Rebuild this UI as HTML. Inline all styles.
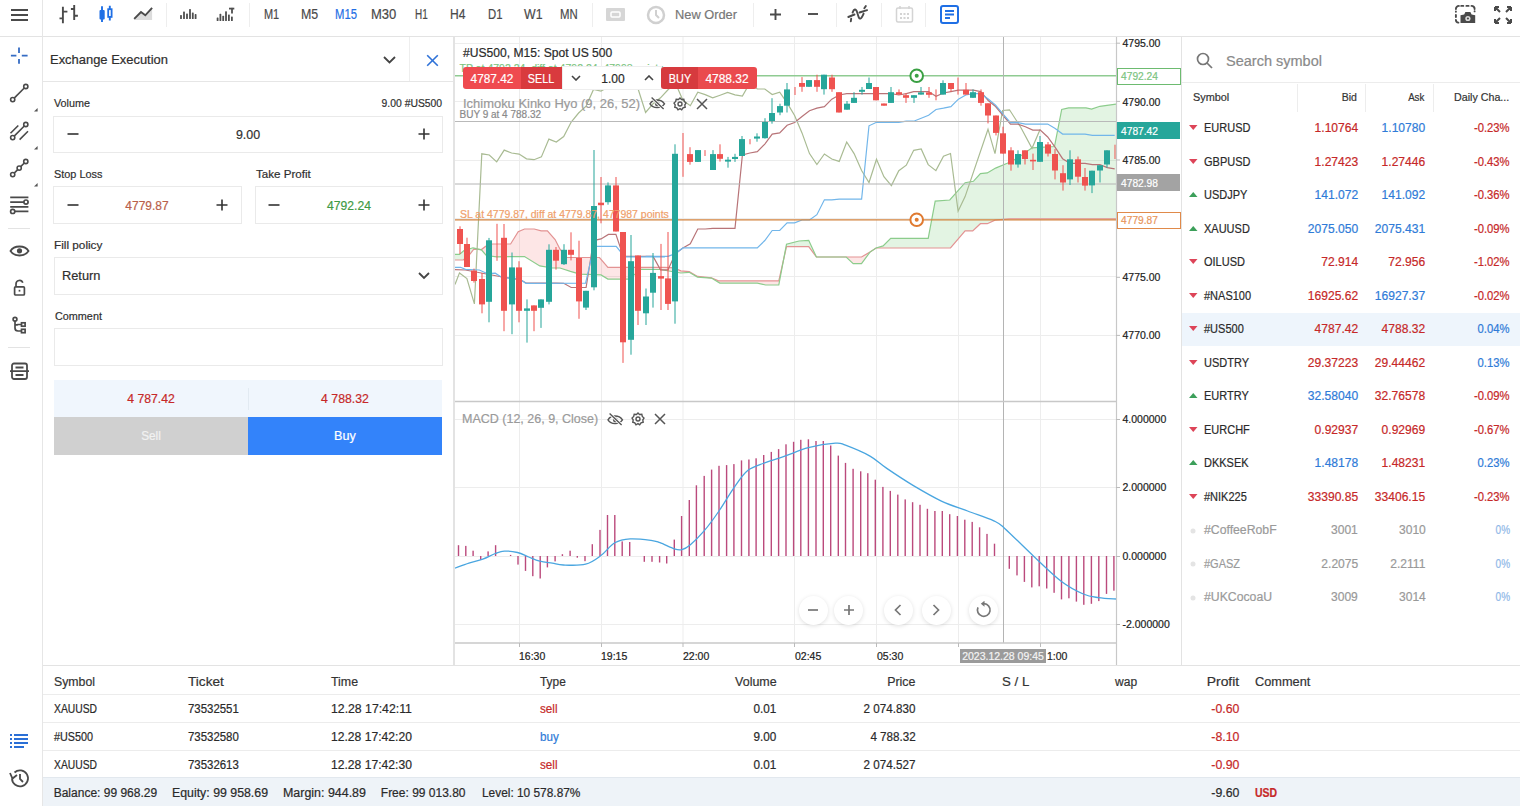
<!DOCTYPE html><html><head><meta charset="utf-8"><style>
html,body{margin:0;padding:0;width:1520px;height:806px;overflow:hidden;background:#fff;font-family:"Liberation Sans", sans-serif;}
.t{position:absolute;height:20px;line-height:20px;white-space:nowrap;-webkit-text-stroke:0.2px currentColor;}
svg{position:absolute;}
</style></head><body>
<div style="position:absolute;left:0px;top:36px;width:1520px;height:1px;background:#e3e3e3"></div>
<div style="position:absolute;left:42px;top:0px;width:1px;height:806px;background:#e6e6e6"></div>
<svg style="left:11px;top:9px" width="18" height="12"><rect x="0" y="0" width="17" height="2" fill="#4a4a4a"/><rect x="0" y="5" width="17" height="2" fill="#4a4a4a"/><rect x="0" y="10" width="17" height="2" fill="#4a4a4a"/></svg>
<svg style="left:58px;top:4px" width="22" height="20" stroke="#4a4a4a" stroke-width="1.9" fill="none"><path d="M4.9 2.8V19.2M1.5 14.4H4.9M4.9 7.6H9.4M16.2 1V16M12.9 5H16.2M16.2 11.8H19.9"/></svg>
<svg style="left:98px;top:5px" width="18" height="18"><path d="M4 1.3V17.1M11.8 0.8V15.5" stroke="#1f6fe5" stroke-width="1.9"/><rect x="1.5" y="5" width="5.2" height="9.5" rx="1" fill="#1f6fe5"/><rect x="10.2" y="4.2" width="3.4" height="7.7" fill="#fff" stroke="#1f6fe5" stroke-width="1.8"/></svg>
<svg style="left:133px;top:6px" width="21" height="16"><path d="M1.2 12.9L8 6.1L12.3 9.3L19.1 1.9V14H1.2Z" fill="#dcdcdc"/><path d="M1.2 12.9L8 6.1L12.3 9.3L19.1 1.9" stroke="#4a4a4a" stroke-width="1.9" fill="none"/></svg>
<div style="position:absolute;left:166px;top:3px;width:1px;height:24px;background:#eeeeee"></div>
<svg style="left:176px;top:2px" width="24" height="22" fill="#4f4f4f"><rect x="4.1" y="13.1" width="1.8" height="4.0" rx="0.6"/><rect x="7.1" y="9.5" width="1.8" height="7.6" rx="0.6"/><rect x="10.1" y="11.5" width="1.8" height="5.6" rx="0.6"/><rect x="13.1" y="6.9" width="1.8" height="10.2" rx="0.6"/><rect x="15.9" y="10.5" width="1.8" height="6.6" rx="0.6"/><rect x="18.7" y="12.1" width="1.8" height="5.0" rx="0.6"/></svg>
<svg style="left:212px;top:2px" width="26" height="22" fill="#4f4f4f"><rect x="4.7" y="15.4" width="1.8" height="3.6" rx="0.6"/><rect x="7.5" y="11.8" width="1.8" height="7.2" rx="0.6"/><rect x="10.3" y="13.8" width="1.8" height="5.2" rx="0.6"/><rect x="13.1" y="9.2" width="1.8" height="9.8" rx="0.6"/><rect x="16.0" y="12.5" width="1.8" height="6.5" rx="0.6"/><rect x="19.0" y="14.4" width="1.8" height="4.6" rx="0.6"/><rect x="17" y="5.7" width="5.3" height="1.8"/><rect x="19.1" y="5.9" width="1.8" height="5.6"/></svg>
<div style="position:absolute;left:248.5px;top:3px;width:1px;height:24px;background:#eeeeee"></div>
<div class="t" style="left:264.3px;top:4.199999999999999px;font-size:14px;color:#4a4a4a;font-weight:normal;transform:scaleX(0.782);transform-origin:left center;">M1</div>
<div class="t" style="left:300.7px;top:4.199999999999999px;font-size:14px;color:#4a4a4a;font-weight:normal;transform:scaleX(0.885);transform-origin:left center;">M5</div>
<div class="t" style="left:335.2px;top:4.199999999999999px;font-size:14px;color:#1f6fe5;font-weight:normal;transform:scaleX(0.805);transform-origin:left center;">M15</div>
<div class="t" style="left:370.9px;top:4.199999999999999px;font-size:14px;color:#4a4a4a;font-weight:normal;transform:scaleX(0.930);transform-origin:left center;">M30</div>
<div class="t" style="left:414.6px;top:4.199999999999999px;font-size:14px;color:#4a4a4a;font-weight:normal;transform:scaleX(0.710);transform-origin:left center;">H1</div>
<div class="t" style="left:449.9px;top:4.199999999999999px;font-size:14px;color:#4a4a4a;font-weight:normal;transform:scaleX(0.861);transform-origin:left center;">H4</div>
<div class="t" style="left:487.6px;top:4.199999999999999px;font-size:14px;color:#4a4a4a;font-weight:normal;transform:scaleX(0.810);transform-origin:left center;">D1</div>
<div class="t" style="left:523.5px;top:4.199999999999999px;font-size:14px;color:#4a4a4a;font-weight:normal;transform:scaleX(0.881);transform-origin:left center;">W1</div>
<div class="t" style="left:560.4px;top:4.199999999999999px;font-size:14px;color:#4a4a4a;font-weight:normal;transform:scaleX(0.813);transform-origin:left center;">MN</div>
<div style="position:absolute;left:592px;top:3px;width:1px;height:24px;background:#eeeeee"></div>
<svg style="left:606px;top:8px" width="19" height="14"><rect x="0" y="0" width="19" height="13" rx="1" fill="#d6d6d6"/><rect x="5" y="4" width="9" height="5" rx="1" fill="none" stroke="#fff" stroke-width="1.5"/></svg>
<svg style="left:646px;top:5px" width="20" height="20"><circle cx="10" cy="10" r="8" fill="none" stroke="#d0d0d0" stroke-width="2.5"/><path d="M10 5V10L13 13" stroke="#d0d0d0" stroke-width="2" fill="none"/></svg>
<div class="t" style="left:675px;top:4.6px;font-size:13px;color:#777;font-weight:normal;transform:scaleX(0.986);transform-origin:left center;">New Order</div>
<div style="position:absolute;left:753px;top:3px;width:1px;height:24px;background:#eeeeee"></div>
<svg style="left:769px;top:8px" width="13" height="13"><path d="M6.5 1V12M1 6.5H12" stroke="#4a4a4a" stroke-width="1.9"/></svg>
<svg style="left:807px;top:8px" width="12" height="12"><path d="M1 6H11" stroke="#4a4a4a" stroke-width="1.9"/></svg>
<div style="position:absolute;left:836px;top:3px;width:1px;height:24px;background:#eeeeee"></div>
<svg style="left:846px;top:4px" width="24" height="22" fill="none" stroke="#4a4a4a" stroke-width="1.9" stroke-linecap="round"><path d="M2.3 13L8.5 10.5M13.5 8.5L21.1 6.1M4.8 17.3L5.2 14.6M18.3 4.3L19.8 2.1"/><path d="M6.6 8.6C7.8 5 9.8 4 11.2 8.5C12.4 12.5 13 15 14.3 14.6C15.7 14.2 16.8 11.5 17.6 9.6"/></svg>
<div style="position:absolute;left:881px;top:3px;width:1px;height:24px;background:#eeeeee"></div>
<svg style="left:895px;top:5px" width="19" height="19"><rect x="1.5" y="3" width="16" height="14" rx="1.5" fill="none" stroke="#d4d4d4" stroke-width="1.5"/><path d="M5 1V4M14 1V4" stroke="#d4d4d4" stroke-width="1.5"/><g fill="#d4d4d4"><rect x="5" y="8" width="2" height="2"/><rect x="8.5" y="8" width="2" height="2"/><rect x="12" y="8" width="2" height="2"/><rect x="5" y="12" width="2" height="2"/><rect x="8.5" y="12" width="2" height="2"/><rect x="12" y="12" width="2" height="2"/></g></svg>
<div style="position:absolute;left:925px;top:3px;width:1px;height:24px;background:#eeeeee"></div>
<svg style="left:940px;top:5px" width="19" height="19"><rect x="1" y="1" width="17" height="17" rx="2" fill="none" stroke="#1f6fe5" stroke-width="2"/><path d="M5 6H14M5 9.5H14M5 13H10" stroke="#1f6fe5" stroke-width="2"/></svg>
<svg style="left:1454px;top:4px" width="23" height="21"><g fill="none" stroke="#4a4a4a" stroke-width="1.9" stroke-linecap="round"><path d="M1.9 5A3 3 0 0 1 4.9 1.9M7.2 1.9H9.3M12.4 1.9H14.6M17.5 1.9A3 3 0 0 1 20.6 5M20.6 7.2V7.4M1.9 7.4V7.8M1.9 11V13M1.9 16A2.8 2.8 0 0 0 4.4 18.6"/></g><path d="M6.5 19V11.2L10.2 10.4L11.4 8H16.4L17.6 10.4L21.2 11.2V19Z" fill="#4a4a4a"/><circle cx="13.9" cy="14.5" r="2.6" fill="#ddd"/><circle cx="13.9" cy="14.5" r="1.1" fill="#4a4a4a"/></svg>
<svg style="left:1493px;top:5px" width="20" height="20" fill="none" stroke="#4a4a4a" stroke-width="2"><path d="M2 2L7 7M2 2V6M2 2H6M18 2L13 7M18 2V6M18 2H14M2 18L7 13M2 18V14M2 18H6M18 18L13 13M18 18V14M18 18H14"/></svg>
<svg style="left:10px;top:47px" width="18" height="18" stroke="#356cc4" stroke-width="1.8"><path d="M9 0.4V5.9M9 11.9V16.8M0.9 8.7H6.4M11.8 8.7H17.6"/></svg>
<svg style="left:9px;top:83px" width="22" height="22" fill="none" stroke="#4a4a4a" stroke-width="1.6"><circle cx="3.7" cy="16.6" r="2.1"/><circle cx="16.8" cy="3.5" r="2.1"/><path d="M5.2 15.1L15.3 5"/></svg>
<svg style="left:9px;top:121px" width="22" height="22" fill="none" stroke="#4a4a4a" stroke-width="1.6"><circle cx="3.7" cy="16.6" r="2.1"/><circle cx="16.8" cy="3.5" r="2.1"/><path d="M1.5 12.3L9.3 4.5M5.2 15.1L15.3 5M10.6 18.6L19 10.3"/></svg>
<svg style="left:9px;top:158px" width="22" height="22" fill="none" stroke="#4a4a4a" stroke-width="1.6"><circle cx="3.7" cy="16.6" r="2.1"/><circle cx="10.2" cy="10.1" r="2.1"/><circle cx="16.8" cy="3.5" r="2.1"/><path d="M5.2 15.1L8.7 11.6M11.7 8.6L15.3 5"/></svg>
<svg style="left:9px;top:194px" width="22" height="22" fill="none" stroke="#4a4a4a" stroke-width="1.7"><path d="M1.2 3.4H19.4M1.2 8.1H15M1.2 12.9H19.4M5.8 17.4H19.4"/><circle cx="17" cy="8.1" r="2.1"/><circle cx="3.7" cy="17.4" r="2.1"/></svg>
<svg style="left:34.3px;top:108.3px" width="3.6" height="3.6"><path d="M3.6 0V3.6H0Z" fill="#555"/></svg>
<svg style="left:34.3px;top:146.3px" width="3.6" height="3.6"><path d="M3.6 0V3.6H0Z" fill="#555"/></svg>
<svg style="left:34.3px;top:183.3px" width="3.6" height="3.6"><path d="M3.6 0V3.6H0Z" fill="#555"/></svg>
<div style="position:absolute;left:8px;top:228px;width:22px;height:1px;background:#e3e3e3"></div>
<svg style="left:9px;top:243px" width="21" height="16" fill="none" stroke="#4a4a4a" stroke-width="1.8"><path d="M1.5 8C5 2 16 2 19.5 8C16 14 5 14 1.5 8Z"/><circle cx="10.5" cy="7.8" r="2.6" fill="#4a4a4a" stroke="none"/></svg>
<svg style="left:12px;top:279px" width="15" height="18" fill="none" stroke="#4a4a4a" stroke-width="1.7"><path d="M4 7.5V5A3.5 3.5 0 0 1 10.8 3.8"/><rect x="2.6" y="7.8" width="9.8" height="8.2" rx="1"/><path d="M7.5 10.8V12.6"/></svg>
<svg style="left:11px;top:316px" width="17" height="19" fill="none" stroke="#4a4a4a" stroke-width="1.7"><circle cx="4" cy="3.2" r="1.9"/><path d="M4 5V12A3 3 0 0 0 7 15H10.5M4 8.5A3 3 0 0 0 7 8.5H10.5"/><rect x="10.5" y="6.8" width="3.6" height="3.4"/><rect x="10.5" y="13.3" width="3.6" height="3.4"/></svg>
<div style="position:absolute;left:8px;top:347px;width:22px;height:1px;background:#e3e3e3"></div>
<svg style="left:9px;top:362px" width="21" height="19" fill="none" stroke="#4a4a4a" stroke-width="1.8"><rect x="3" y="1.5" width="15" height="15.5" rx="2"/><path d="M1 9.2H20M6.5 5.5H14.5M6.5 13H14.5"/></svg>
<svg style="left:10px;top:733px" width="19" height="16" fill="#2a6fd6"><rect x="0" y="1" width="2" height="2"/><rect x="0" y="5" width="2" height="2"/><rect x="0" y="9" width="2" height="2"/><rect x="0" y="13" width="2" height="2"/><rect x="4" y="1" width="14" height="2"/><rect x="4" y="5" width="14" height="2"/><rect x="4" y="9" width="14" height="2"/><rect x="4" y="13" width="10" height="2"/></svg>
<svg style="left:8px;top:768px" width="22" height="21" fill="none" stroke="#4a4a4a" stroke-width="1.8"><path d="M4 10.5A8 8 0 1 0 6.5 4.5"/><path d="M2 5L4.5 10.5L9 7" /><path d="M12 6V11L15 14"/></svg>
<div style="position:absolute;left:453px;top:36px;width:1px;height:630px;background:#e3e3e3"></div>
<div style="position:absolute;left:43px;top:81px;width:410px;height:1px;background:#e6e6e6"></div>
<div style="position:absolute;left:409px;top:37px;width:1px;height:44px;background:#eeeeee"></div>
<div class="t" style="left:50px;top:50.0px;font-size:13px;color:#2f2f2f;font-weight:normal;transform:scaleX(0.995);transform-origin:left center;">Exchange Execution</div>
<svg style="left:383px;top:56px" width="13" height="8" fill="none" stroke="#444" stroke-width="1.8"><path d="M1 1L6.5 6.5L12 1"/></svg>
<svg style="left:425.5px;top:54px" width="13" height="13" fill="none" stroke="#2f72d8" stroke-width="1.6"><path d="M1.2 1.2L11.8 11.8M11.8 1.2L1.2 11.8"/></svg>
<div class="t" style="left:54px;top:93.0px;font-size:11.5px;color:#2f2f2f;font-weight:normal;transform:scaleX(0.939);transform-origin:left center;">Volume</div>
<div class="t" style="right:1077.5px;top:93.0px;font-size:11.5px;color:#2f2f2f;font-weight:normal;transform:scaleX(0.902);transform-origin:right center;">9.00 #US500</div>
<div style="position:absolute;left:53px;top:116px;width:388px;height:35px;border:1px solid #eaeaea;background:#fff"></div>
<svg style="left:67px;top:128px" width="12" height="12"><path d="M0.5 6H11.5" stroke="#333" stroke-width="1.6"/></svg>
<svg style="left:418px;top:128px" width="12" height="12"><path d="M0.5 6H11.5M6 0.5V11.5" stroke="#333" stroke-width="1.6"/></svg>
<div class="t" style="left:48.19999999999999px;width:400px;text-align:center;top:124.5px;font-size:13px;color:#2f2f2f;font-weight:normal;transform:scaleX(0.956);transform-origin:center center;">9.00</div>
<div class="t" style="left:54px;top:164.0px;font-size:11.5px;color:#2f2f2f;font-weight:normal;transform:scaleX(0.947);transform-origin:left center;">Stop Loss</div>
<div class="t" style="left:256.4px;top:164.0px;font-size:11.5px;color:#2f2f2f;font-weight:normal;transform:scaleX(1.009);transform-origin:left center;">Take Profit</div>
<div style="position:absolute;left:53px;top:186px;width:187px;height:36px;border:1px solid #eaeaea;background:#fff"></div>
<div style="position:absolute;left:255px;top:186px;width:186px;height:36px;border:1px solid #eaeaea;background:#fff"></div>
<svg style="left:67px;top:199px" width="12" height="12"><path d="M0.5 6H11.5" stroke="#333" stroke-width="1.6"/></svg>
<svg style="left:216px;top:199px" width="12" height="12"><path d="M0.5 6H11.5M6 0.5V11.5" stroke="#333" stroke-width="1.6"/></svg>
<div class="t" style="left:-52.80000000000001px;width:400px;text-align:center;top:195.5px;font-size:13px;color:#b9604a;font-weight:normal;transform:scaleX(0.921);transform-origin:center center;">4779.87</div>
<svg style="left:268px;top:199px" width="12" height="12"><path d="M0.5 6H11.5" stroke="#333" stroke-width="1.6"/></svg>
<svg style="left:418px;top:199px" width="12" height="12"><path d="M0.5 6H11.5M6 0.5V11.5" stroke="#333" stroke-width="1.6"/></svg>
<div class="t" style="left:148.8px;width:400px;text-align:center;top:195.5px;font-size:13px;color:#3f9a45;font-weight:normal;transform:scaleX(0.934);transform-origin:center center;">4792.24</div>
<div class="t" style="left:54px;top:235.0px;font-size:11.5px;color:#2f2f2f;font-weight:normal;transform:scaleX(1.023);transform-origin:left center;">Fill policy</div>
<div style="position:absolute;left:54px;top:257px;width:387px;height:36px;border:1px solid #eaeaea;background:#fff"></div>
<div class="t" style="left:62px;top:266.0px;font-size:13px;color:#2f2f2f;font-weight:normal;transform:scaleX(0.984);transform-origin:left center;">Return</div>
<svg style="left:418px;top:272px" width="12" height="8" fill="none" stroke="#444" stroke-width="1.8"><path d="M1 1L6 6L11 1"/></svg>
<div class="t" style="left:54.5px;top:306.0px;font-size:11.5px;color:#2f2f2f;font-weight:normal;transform:scaleX(0.941);transform-origin:left center;">Comment</div>
<div style="position:absolute;left:54px;top:328px;width:387px;height:36px;border:1px solid #eaeaea;background:#fff"></div>
<div style="position:absolute;left:54px;top:380px;width:388px;height:37px;background:#f0f6fd"></div>
<div style="position:absolute;left:248px;top:388px;width:1px;height:22px;background:#e2eaf2"></div>
<div class="t" style="left:-49.19999999999999px;width:400px;text-align:center;top:388.5px;font-size:13px;color:#c62828;font-weight:normal;transform:scaleX(0.938);transform-origin:center center;">4 787.42</div>
<div class="t" style="left:145.3px;width:400px;text-align:center;top:388.5px;font-size:13px;color:#c62828;font-weight:normal;transform:scaleX(0.944);transform-origin:center center;">4 788.32</div>
<div style="position:absolute;left:54px;top:417px;width:194px;height:38px;background:#d0d0d0"></div>
<div style="position:absolute;left:248px;top:417px;width:194px;height:38px;background:#3383fa"></div>
<div class="t" style="left:-48.80000000000001px;width:400px;text-align:center;top:426.0px;font-size:13px;color:#f2f2f2;font-weight:normal;transform:scaleX(0.908);transform-origin:center center;">Sell</div>
<div class="t" style="left:144.7px;width:400px;text-align:center;top:426.0px;font-size:13px;color:#ffffff;font-weight:normal;transform:scaleX(0.973);transform-origin:center center;">Buy</div>
<div style="position:absolute;left:1181px;top:36px;width:1px;height:630px;background:#e3e3e3"></div>
<svg style="left:1196px;top:52px" width="17" height="17" fill="none" stroke="#777" stroke-width="1.7"><circle cx="7" cy="7" r="5.5"/><path d="M11 11L16 16"/></svg>
<div class="t" style="left:1226.4px;top:50.5px;font-size:14px;color:#8a8a8a;font-weight:normal;transform:scaleX(1.036);transform-origin:left center;">Search symbol</div>
<div style="position:absolute;left:1182px;top:82px;width:338px;height:1px;background:#ececec"></div>
<div class="t" style="left:1193px;top:86.8px;font-size:11px;color:#333;font-weight:normal;transform:scaleX(0.989);transform-origin:left center;">Symbol</div>
<div class="t" style="right:163.20000000000005px;top:86.8px;font-size:11px;color:#333;font-weight:normal;transform:scaleX(0.956);transform-origin:right center;">Bid</div>
<div class="t" style="right:95.20000000000005px;top:86.8px;font-size:11px;color:#333;font-weight:normal;transform:scaleX(0.883);transform-origin:right center;">Ask</div>
<div class="t" style="left:1453.8px;top:86.8px;font-size:11px;color:#333;font-weight:normal;transform:scaleX(0.972);transform-origin:left center;">Daily Cha...</div>
<div style="position:absolute;left:1297px;top:84px;width:1px;height:28px;background:#ededed"></div>
<div style="position:absolute;left:1365px;top:84px;width:1px;height:28px;background:#ededed"></div>
<div style="position:absolute;left:1433px;top:84px;width:1px;height:28px;background:#ededed"></div>
<svg style="left:1189px;top:125.0px" width="8.5" height="5"><path d="M0 0H8.5L4.25 5Z" fill="#dd4458"/></svg>
<div class="t" style="left:1204.2px;top:118.0px;font-size:12.5px;color:#2a2a2a;font-weight:normal;transform:scaleX(0.880);transform-origin:left center;">EURUSD</div>
<div class="t" style="right:162.20000000000005px;top:118.0px;font-size:12.5px;color:#c62828;font-weight:normal;transform:scaleX(0.965);transform-origin:right center;">1.10764</div>
<div class="t" style="right:94.5px;top:118.0px;font-size:12.5px;color:#2f7bd8;font-weight:normal;transform:scaleX(0.965);transform-origin:right center;">1.10780</div>
<div class="t" style="right:10.200000000000045px;top:118.0px;font-size:12.5px;color:#c62828;font-weight:normal;transform:scaleX(0.900);transform-origin:right center;">-0.23%</div>
<svg style="left:1189px;top:158.5px" width="8.5" height="5"><path d="M0 0H8.5L4.25 5Z" fill="#dd4458"/></svg>
<div class="t" style="left:1204.2px;top:151.5px;font-size:12.5px;color:#2a2a2a;font-weight:normal;transform:scaleX(0.880);transform-origin:left center;">GBPUSD</div>
<div class="t" style="right:162.20000000000005px;top:151.5px;font-size:12.5px;color:#c62828;font-weight:normal;transform:scaleX(0.965);transform-origin:right center;">1.27423</div>
<div class="t" style="right:94.5px;top:151.5px;font-size:12.5px;color:#c62828;font-weight:normal;transform:scaleX(0.965);transform-origin:right center;">1.27446</div>
<div class="t" style="right:10.200000000000045px;top:151.5px;font-size:12.5px;color:#c62828;font-weight:normal;transform:scaleX(0.900);transform-origin:right center;">-0.43%</div>
<svg style="left:1189px;top:192.0px" width="8.5" height="5"><path d="M0 5H8.5L4.25 0Z" fill="#3c9f5a"/></svg>
<div class="t" style="left:1204.2px;top:185.0px;font-size:12.5px;color:#2a2a2a;font-weight:normal;transform:scaleX(0.880);transform-origin:left center;">USDJPY</div>
<div class="t" style="right:162.20000000000005px;top:185.0px;font-size:12.5px;color:#2f7bd8;font-weight:normal;transform:scaleX(0.965);transform-origin:right center;">141.072</div>
<div class="t" style="right:94.5px;top:185.0px;font-size:12.5px;color:#2f7bd8;font-weight:normal;transform:scaleX(0.965);transform-origin:right center;">141.092</div>
<div class="t" style="right:10.200000000000045px;top:185.0px;font-size:12.5px;color:#c62828;font-weight:normal;transform:scaleX(0.900);transform-origin:right center;">-0.36%</div>
<svg style="left:1189px;top:225.5px" width="8.5" height="5"><path d="M0 5H8.5L4.25 0Z" fill="#3c9f5a"/></svg>
<div class="t" style="left:1204.2px;top:218.5px;font-size:12.5px;color:#2a2a2a;font-weight:normal;transform:scaleX(0.880);transform-origin:left center;">XAUUSD</div>
<div class="t" style="right:162.20000000000005px;top:218.5px;font-size:12.5px;color:#2f7bd8;font-weight:normal;transform:scaleX(0.965);transform-origin:right center;">2075.050</div>
<div class="t" style="right:94.5px;top:218.5px;font-size:12.5px;color:#2f7bd8;font-weight:normal;transform:scaleX(0.965);transform-origin:right center;">2075.431</div>
<div class="t" style="right:10.200000000000045px;top:218.5px;font-size:12.5px;color:#c62828;font-weight:normal;transform:scaleX(0.900);transform-origin:right center;">-0.09%</div>
<svg style="left:1189px;top:259.0px" width="8.5" height="5"><path d="M0 0H8.5L4.25 5Z" fill="#dd4458"/></svg>
<div class="t" style="left:1204.2px;top:252.0px;font-size:12.5px;color:#2a2a2a;font-weight:normal;transform:scaleX(0.880);transform-origin:left center;">OILUSD</div>
<div class="t" style="right:162.20000000000005px;top:252.0px;font-size:12.5px;color:#c62828;font-weight:normal;transform:scaleX(0.965);transform-origin:right center;">72.914</div>
<div class="t" style="right:94.5px;top:252.0px;font-size:12.5px;color:#c62828;font-weight:normal;transform:scaleX(0.965);transform-origin:right center;">72.956</div>
<div class="t" style="right:10.200000000000045px;top:252.0px;font-size:12.5px;color:#c62828;font-weight:normal;transform:scaleX(0.900);transform-origin:right center;">-1.02%</div>
<svg style="left:1189px;top:292.5px" width="8.5" height="5"><path d="M0 0H8.5L4.25 5Z" fill="#dd4458"/></svg>
<div class="t" style="left:1204.2px;top:285.5px;font-size:12.5px;color:#2a2a2a;font-weight:normal;transform:scaleX(0.880);transform-origin:left center;">#NAS100</div>
<div class="t" style="right:162.20000000000005px;top:285.5px;font-size:12.5px;color:#c62828;font-weight:normal;transform:scaleX(0.965);transform-origin:right center;">16925.62</div>
<div class="t" style="right:94.5px;top:285.5px;font-size:12.5px;color:#2f7bd8;font-weight:normal;transform:scaleX(0.965);transform-origin:right center;">16927.37</div>
<div class="t" style="right:10.200000000000045px;top:285.5px;font-size:12.5px;color:#c62828;font-weight:normal;transform:scaleX(0.900);transform-origin:right center;">-0.02%</div>
<div style="position:absolute;left:1182px;top:312.5px;width:338px;height:33px;background:#eef5fc"></div>
<svg style="left:1189px;top:326.0px" width="8.5" height="5"><path d="M0 0H8.5L4.25 5Z" fill="#dd4458"/></svg>
<div class="t" style="left:1204.2px;top:319.0px;font-size:12.5px;color:#2a2a2a;font-weight:normal;transform:scaleX(0.880);transform-origin:left center;">#US500</div>
<div class="t" style="right:162.20000000000005px;top:319.0px;font-size:12.5px;color:#c62828;font-weight:normal;transform:scaleX(0.965);transform-origin:right center;">4787.42</div>
<div class="t" style="right:94.5px;top:319.0px;font-size:12.5px;color:#c62828;font-weight:normal;transform:scaleX(0.965);transform-origin:right center;">4788.32</div>
<div class="t" style="right:10.200000000000045px;top:319.0px;font-size:12.5px;color:#2f7bd8;font-weight:normal;transform:scaleX(0.900);transform-origin:right center;">0.04%</div>
<svg style="left:1189px;top:359.5px" width="8.5" height="5"><path d="M0 0H8.5L4.25 5Z" fill="#dd4458"/></svg>
<div class="t" style="left:1204.2px;top:352.5px;font-size:12.5px;color:#2a2a2a;font-weight:normal;transform:scaleX(0.880);transform-origin:left center;">USDTRY</div>
<div class="t" style="right:162.20000000000005px;top:352.5px;font-size:12.5px;color:#c62828;font-weight:normal;transform:scaleX(0.965);transform-origin:right center;">29.37223</div>
<div class="t" style="right:94.5px;top:352.5px;font-size:12.5px;color:#c62828;font-weight:normal;transform:scaleX(0.965);transform-origin:right center;">29.44462</div>
<div class="t" style="right:10.200000000000045px;top:352.5px;font-size:12.5px;color:#2f7bd8;font-weight:normal;transform:scaleX(0.900);transform-origin:right center;">0.13%</div>
<svg style="left:1189px;top:393.0px" width="8.5" height="5"><path d="M0 5H8.5L4.25 0Z" fill="#3c9f5a"/></svg>
<div class="t" style="left:1204.2px;top:386.0px;font-size:12.5px;color:#2a2a2a;font-weight:normal;transform:scaleX(0.880);transform-origin:left center;">EURTRY</div>
<div class="t" style="right:162.20000000000005px;top:386.0px;font-size:12.5px;color:#2f7bd8;font-weight:normal;transform:scaleX(0.965);transform-origin:right center;">32.58040</div>
<div class="t" style="right:94.5px;top:386.0px;font-size:12.5px;color:#c62828;font-weight:normal;transform:scaleX(0.965);transform-origin:right center;">32.76578</div>
<div class="t" style="right:10.200000000000045px;top:386.0px;font-size:12.5px;color:#c62828;font-weight:normal;transform:scaleX(0.900);transform-origin:right center;">-0.09%</div>
<svg style="left:1189px;top:426.5px" width="8.5" height="5"><path d="M0 0H8.5L4.25 5Z" fill="#dd4458"/></svg>
<div class="t" style="left:1204.2px;top:419.5px;font-size:12.5px;color:#2a2a2a;font-weight:normal;transform:scaleX(0.880);transform-origin:left center;">EURCHF</div>
<div class="t" style="right:162.20000000000005px;top:419.5px;font-size:12.5px;color:#c62828;font-weight:normal;transform:scaleX(0.965);transform-origin:right center;">0.92937</div>
<div class="t" style="right:94.5px;top:419.5px;font-size:12.5px;color:#c62828;font-weight:normal;transform:scaleX(0.965);transform-origin:right center;">0.92969</div>
<div class="t" style="right:10.200000000000045px;top:419.5px;font-size:12.5px;color:#c62828;font-weight:normal;transform:scaleX(0.900);transform-origin:right center;">-0.67%</div>
<svg style="left:1189px;top:460.0px" width="8.5" height="5"><path d="M0 5H8.5L4.25 0Z" fill="#3c9f5a"/></svg>
<div class="t" style="left:1204.2px;top:453.0px;font-size:12.5px;color:#2a2a2a;font-weight:normal;transform:scaleX(0.880);transform-origin:left center;">DKKSEK</div>
<div class="t" style="right:162.20000000000005px;top:453.0px;font-size:12.5px;color:#2f7bd8;font-weight:normal;transform:scaleX(0.965);transform-origin:right center;">1.48178</div>
<div class="t" style="right:94.5px;top:453.0px;font-size:12.5px;color:#c62828;font-weight:normal;transform:scaleX(0.965);transform-origin:right center;">1.48231</div>
<div class="t" style="right:10.200000000000045px;top:453.0px;font-size:12.5px;color:#2f7bd8;font-weight:normal;transform:scaleX(0.900);transform-origin:right center;">0.23%</div>
<svg style="left:1189px;top:493.5px" width="8.5" height="5"><path d="M0 0H8.5L4.25 5Z" fill="#dd4458"/></svg>
<div class="t" style="left:1204.2px;top:486.5px;font-size:12.5px;color:#2a2a2a;font-weight:normal;transform:scaleX(0.880);transform-origin:left center;">#NIK225</div>
<div class="t" style="right:162.20000000000005px;top:486.5px;font-size:12.5px;color:#c62828;font-weight:normal;transform:scaleX(0.965);transform-origin:right center;">33390.85</div>
<div class="t" style="right:94.5px;top:486.5px;font-size:12.5px;color:#c62828;font-weight:normal;transform:scaleX(0.965);transform-origin:right center;">33406.15</div>
<div class="t" style="right:10.200000000000045px;top:486.5px;font-size:12.5px;color:#c62828;font-weight:normal;transform:scaleX(0.900);transform-origin:right center;">-0.23%</div>
<svg style="left:1190px;top:527.5px" width="6" height="6"><circle cx="3" cy="3" r="2.5" fill="#e4e4e4"/></svg>
<div class="t" style="left:1204.2px;top:520.0px;font-size:12.5px;color:#9a9a9a;font-weight:normal;transform:scaleX(0.980);transform-origin:left center;">#CoffeeRobF</div>
<div class="t" style="right:162.20000000000005px;top:520.0px;font-size:12.5px;color:#999;font-weight:normal;transform:scaleX(0.965);transform-origin:right center;">3001</div>
<div class="t" style="right:94.5px;top:520.0px;font-size:12.5px;color:#999;font-weight:normal;transform:scaleX(0.965);transform-origin:right center;">3010</div>
<div class="t" style="right:10.200000000000045px;top:520.0px;font-size:12.5px;color:#8fb8e8;font-weight:normal;transform:scaleX(0.800);transform-origin:right center;">0%</div>
<svg style="left:1190px;top:561.0px" width="6" height="6"><circle cx="3" cy="3" r="2.5" fill="#e4e4e4"/></svg>
<div class="t" style="left:1204.2px;top:553.5px;font-size:12.5px;color:#9a9a9a;font-weight:normal;transform:scaleX(0.880);transform-origin:left center;">#GASZ</div>
<div class="t" style="right:162.20000000000005px;top:553.5px;font-size:12.5px;color:#999;font-weight:normal;transform:scaleX(0.965);transform-origin:right center;">2.2075</div>
<div class="t" style="right:94.5px;top:553.5px;font-size:12.5px;color:#999;font-weight:normal;transform:scaleX(0.965);transform-origin:right center;">2.2111</div>
<div class="t" style="right:10.200000000000045px;top:553.5px;font-size:12.5px;color:#8fb8e8;font-weight:normal;transform:scaleX(0.800);transform-origin:right center;">0%</div>
<svg style="left:1190px;top:594.5px" width="6" height="6"><circle cx="3" cy="3" r="2.5" fill="#e4e4e4"/></svg>
<div class="t" style="left:1204.2px;top:587.0px;font-size:12.5px;color:#9a9a9a;font-weight:normal;transform:scaleX(0.980);transform-origin:left center;">#UKCocoaU</div>
<div class="t" style="right:162.20000000000005px;top:587.0px;font-size:12.5px;color:#999;font-weight:normal;transform:scaleX(0.965);transform-origin:right center;">3009</div>
<div class="t" style="right:94.5px;top:587.0px;font-size:12.5px;color:#999;font-weight:normal;transform:scaleX(0.965);transform-origin:right center;">3014</div>
<div class="t" style="right:10.200000000000045px;top:587.0px;font-size:12.5px;color:#8fb8e8;font-weight:normal;transform:scaleX(0.800);transform-origin:right center;">0%</div>
<div style="position:absolute;left:43px;top:665px;width:1477px;height:1px;background:#e3e3e3"></div>
<div style="position:absolute;left:43px;top:694px;width:1477px;height:1px;background:#ececec"></div>
<div style="position:absolute;left:43px;top:722px;width:1477px;height:1px;background:#ececec"></div>
<div style="position:absolute;left:43px;top:750px;width:1477px;height:1px;background:#ececec"></div>
<div style="position:absolute;left:43px;top:778px;width:1477px;height:28px;background:#eef3f8"></div>
<div style="position:absolute;left:43px;top:777px;width:1477px;height:1px;background:#e2e8ee"></div>
<div class="t" style="left:53.7px;top:672.0px;font-size:12.5px;color:#333;font-weight:normal;transform:scaleX(0.984);transform-origin:left center;">Symbol</div>
<div class="t" style="left:187.9px;top:672.0px;font-size:12.5px;color:#333;font-weight:normal;transform:scaleX(1.089);transform-origin:left center;">Ticket</div>
<div class="t" style="left:330.8px;top:672.0px;font-size:12.5px;color:#333;font-weight:normal;transform:scaleX(0.992);transform-origin:left center;">Time</div>
<div class="t" style="left:540.2px;top:672.0px;font-size:12.5px;color:#333;font-weight:normal;transform:scaleX(0.952);transform-origin:left center;">Type</div>
<div class="t" style="right:743.6px;top:672.0px;font-size:12.5px;color:#333;font-weight:normal;transform:scaleX(0.998);transform-origin:right center;">Volume</div>
<div class="t" style="right:604.7px;top:672.0px;font-size:12.5px;color:#333;font-weight:normal;transform:scaleX(0.994);transform-origin:right center;">Price</div>
<div class="t" style="left:1001.6px;top:672.0px;font-size:12.5px;color:#333;font-weight:normal;transform:scaleX(1.062);transform-origin:left center;">S / L</div>
<div class="t" style="left:1114.8px;top:672.0px;font-size:12.5px;color:#333;font-weight:normal;transform:scaleX(0.963);transform-origin:left center;">wap</div>
<div class="t" style="right:280.70000000000005px;top:672.0px;font-size:12.5px;color:#333;font-weight:normal;transform:scaleX(1.111);transform-origin:right center;">Profit</div>
<div class="t" style="left:1254.8px;top:672.0px;font-size:12.5px;color:#333;font-weight:normal;transform:scaleX(1.021);transform-origin:left center;">Comment</div>
<div class="t" style="left:53.7px;top:698.8px;font-size:12px;color:#2a2a2a;font-weight:normal;transform:scaleX(0.860);transform-origin:left center;">XAUUSD</div>
<div class="t" style="left:187.9px;top:698.8px;font-size:12px;color:#2a2a2a;font-weight:normal;transform:scaleX(0.952);transform-origin:left center;">73532551</div>
<div class="t" style="left:330.8px;top:698.8px;font-size:12px;color:#2a2a2a;font-weight:normal;transform:scaleX(1.021);transform-origin:left center;">12.28 17:42:11</div>
<div class="t" style="left:540.2px;top:698.8px;font-size:12px;color:#c62828;font-weight:normal;transform:scaleX(0.970);transform-origin:left center;">sell</div>
<div class="t" style="right:744px;top:698.8px;font-size:12px;color:#2a2a2a;font-weight:normal;transform:scaleX(0.977);transform-origin:right center;">0.01</div>
<div class="t" style="right:604.7px;top:698.8px;font-size:12px;color:#2a2a2a;font-weight:normal;transform:scaleX(0.970);transform-origin:right center;">2 074.830</div>
<div class="t" style="right:280.70000000000005px;top:698.8px;font-size:12px;color:#c62828;font-weight:normal;transform:scaleX(1.024);transform-origin:right center;">-0.60</div>
<div class="t" style="left:53.7px;top:726.6999999999999px;font-size:12px;color:#2a2a2a;font-weight:normal;transform:scaleX(0.900);transform-origin:left center;">#US500</div>
<div class="t" style="left:187.9px;top:726.6999999999999px;font-size:12px;color:#2a2a2a;font-weight:normal;transform:scaleX(0.952);transform-origin:left center;">73532580</div>
<div class="t" style="left:330.8px;top:726.6999999999999px;font-size:12px;color:#2a2a2a;font-weight:normal;transform:scaleX(1.010);transform-origin:left center;">12.28 17:42:20</div>
<div class="t" style="left:540.2px;top:726.6999999999999px;font-size:12px;color:#2f7bd8;font-weight:normal;transform:scaleX(0.970);transform-origin:left center;">buy</div>
<div class="t" style="right:744px;top:726.6999999999999px;font-size:12px;color:#2a2a2a;font-weight:normal;transform:scaleX(0.977);transform-origin:right center;">9.00</div>
<div class="t" style="right:604.7px;top:726.6999999999999px;font-size:12px;color:#2a2a2a;font-weight:normal;transform:scaleX(0.970);transform-origin:right center;">4 788.32</div>
<div class="t" style="right:280.70000000000005px;top:726.6999999999999px;font-size:12px;color:#c62828;font-weight:normal;transform:scaleX(1.024);transform-origin:right center;">-8.10</div>
<div class="t" style="left:53.7px;top:754.5999999999999px;font-size:12px;color:#2a2a2a;font-weight:normal;transform:scaleX(0.860);transform-origin:left center;">XAUUSD</div>
<div class="t" style="left:187.9px;top:754.5999999999999px;font-size:12px;color:#2a2a2a;font-weight:normal;transform:scaleX(0.952);transform-origin:left center;">73532613</div>
<div class="t" style="left:330.8px;top:754.5999999999999px;font-size:12px;color:#2a2a2a;font-weight:normal;transform:scaleX(1.010);transform-origin:left center;">12.28 17:42:30</div>
<div class="t" style="left:540.2px;top:754.5999999999999px;font-size:12px;color:#c62828;font-weight:normal;transform:scaleX(0.970);transform-origin:left center;">sell</div>
<div class="t" style="right:744px;top:754.5999999999999px;font-size:12px;color:#2a2a2a;font-weight:normal;transform:scaleX(0.977);transform-origin:right center;">0.01</div>
<div class="t" style="right:604.7px;top:754.5999999999999px;font-size:12px;color:#2a2a2a;font-weight:normal;transform:scaleX(0.970);transform-origin:right center;">2 074.527</div>
<div class="t" style="right:280.70000000000005px;top:754.5999999999999px;font-size:12px;color:#c62828;font-weight:normal;transform:scaleX(1.024);transform-origin:right center;">-0.90</div>
<div class="t" style="left:53.7px;top:783.1px;font-size:12px;color:#2a2a2a;font-weight:normal;transform:scaleX(1.000);transform-origin:left center;">Balance: 99 968.29</div>
<div class="t" style="left:171.6px;top:783.1px;font-size:12px;color:#2a2a2a;font-weight:normal;transform:scaleX(1.028);transform-origin:left center;">Equity: 99 958.69</div>
<div class="t" style="left:282.6px;top:783.1px;font-size:12px;color:#2a2a2a;font-weight:normal;transform:scaleX(1.036);transform-origin:left center;">Margin: 944.89</div>
<div class="t" style="left:380.8px;top:783.1px;font-size:12px;color:#2a2a2a;font-weight:normal;transform:scaleX(1.000);transform-origin:left center;">Free: 99 013.80</div>
<div class="t" style="left:482.4px;top:783.1px;font-size:12px;color:#2a2a2a;font-weight:normal;transform:scaleX(0.990);transform-origin:left center;">Level: 10 578.87%</div>
<div class="t" style="right:280.70000000000005px;top:783.1px;font-size:12px;color:#2a2a2a;font-weight:normal;transform:scaleX(1.024);transform-origin:right center;">-9.60</div>
<div class="t" style="left:1254.8px;top:783.1px;font-size:12px;color:#c62828;font-weight:bold;transform:scaleX(0.872);transform-origin:left center;">USD</div>
<svg style="left:0;top:0" width="1520" height="[(458.5, 545.2), (465.8, 545.9), (473.1, 550.7), (480.7, 559.8), (488.1, 551.4), (495.6, 545.2), (510.6, 554.9), (518, 564.6), (525.5, 570.9), (532.8, 576.2), (540.2, 578.5), (547.4, 567.4), (555.1, 561.4), (562.4, 554.2), (570.1, 550.7), (577.3, 557.7), (585, 561.2), (592.3, 544.2), (600, 529.9), (607.5, 515), (614.8, 515), (622.2, 541.4), (629.7, 542), (644.3, 561.8), (652, 561.8), (659.6, 562.5), (666.7, 563.5), (674.3, 539.6), (681.6, 516), (689.3, 500), (696.4, 485.3), (704.2, 475.9), (711.6, 469.6), (719, 465.8), (726.6, 465.1), (733.9, 464.1), (741.5, 460.4), (748.9, 459.5), (756.1, 458.3), (763.7, 455), (771.3, 451.9), (778.6, 449.1), (786, 444.3), (793.6, 441.8), (800.8, 439.8), (808.4, 439.3), (816, 441), (823.3, 441), (830.7, 445.5), (838.3, 455.6), (845.5, 462.9), (853.1, 468.8), (860.7, 471.3), (867.8, 473.2), (875.3, 479.7), (882.9, 486.9), (890.3, 490.9), (897.8, 494.6), (905.2, 499.4), (912.6, 502.2), (920, 504.8), (927.4, 508.8), (934.9, 511), (942.3, 511), (949.7, 514.2), (957.4, 516), (964.8, 519.7), (972.2, 521.9), (979.6, 527.3), (987, 533.9), (994.5, 543.7), (1009.3, 568.8), (1017, 575.4), (1024.4, 581.9), (1031.8, 587.4), (1039.2, 586.3), (1046.7, 588.5), (1054.1, 592.8), (1061.5, 599.4), (1068.9, 598.3), (1076.4, 601.6), (1083.8, 604.8), (1091.4, 603.8), (1098.8, 601.1), (1106.5, 593.9), (1113.9, 590.7)]" viewBox="0 0 1520 [(458.5, 545.2), (465.8, 545.9), (473.1, 550.7), (480.7, 559.8), (488.1, 551.4), (495.6, 545.2), (510.6, 554.9), (518, 564.6), (525.5, 570.9), (532.8, 576.2), (540.2, 578.5), (547.4, 567.4), (555.1, 561.4), (562.4, 554.2), (570.1, 550.7), (577.3, 557.7), (585, 561.2), (592.3, 544.2), (600, 529.9), (607.5, 515), (614.8, 515), (622.2, 541.4), (629.7, 542), (644.3, 561.8), (652, 561.8), (659.6, 562.5), (666.7, 563.5), (674.3, 539.6), (681.6, 516), (689.3, 500), (696.4, 485.3), (704.2, 475.9), (711.6, 469.6), (719, 465.8), (726.6, 465.1), (733.9, 464.1), (741.5, 460.4), (748.9, 459.5), (756.1, 458.3), (763.7, 455), (771.3, 451.9), (778.6, 449.1), (786, 444.3), (793.6, 441.8), (800.8, 439.8), (808.4, 439.3), (816, 441), (823.3, 441), (830.7, 445.5), (838.3, 455.6), (845.5, 462.9), (853.1, 468.8), (860.7, 471.3), (867.8, 473.2), (875.3, 479.7), (882.9, 486.9), (890.3, 490.9), (897.8, 494.6), (905.2, 499.4), (912.6, 502.2), (920, 504.8), (927.4, 508.8), (934.9, 511), (942.3, 511), (949.7, 514.2), (957.4, 516), (964.8, 519.7), (972.2, 521.9), (979.6, 527.3), (987, 533.9), (994.5, 543.7), (1009.3, 568.8), (1017, 575.4), (1024.4, 581.9), (1031.8, 587.4), (1039.2, 586.3), (1046.7, 588.5), (1054.1, 592.8), (1061.5, 599.4), (1068.9, 598.3), (1076.4, 601.6), (1083.8, 604.8), (1091.4, 603.8), (1098.8, 601.1), (1106.5, 593.9), (1113.9, 590.7)]">
<defs><clipPath id="cm"><rect x="455" y="37" width="661" height="364"/></clipPath><clipPath id="cd"><rect x="455" y="402" width="661" height="241"/></clipPath></defs>
<line x1="455" y1="43.5" x2="1116" y2="43.5" stroke="#ededed"/>
<line x1="455" y1="101.5" x2="1116" y2="101.5" stroke="#ededed"/>
<line x1="455" y1="160.5" x2="1116" y2="160.5" stroke="#ededed"/>
<line x1="455" y1="218.5" x2="1116" y2="218.5" stroke="#ededed"/>
<line x1="455" y1="276.5" x2="1116" y2="276.5" stroke="#ededed"/>
<line x1="455" y1="335.5" x2="1116" y2="335.5" stroke="#ededed"/>
<line x1="519.5" y1="37" x2="519.5" y2="643" stroke="#ededed"/>
<line x1="601.5" y1="37" x2="601.5" y2="643" stroke="#ededed"/>
<line x1="683" y1="37" x2="683" y2="643" stroke="#ededed"/>
<line x1="794.5" y1="37" x2="794.5" y2="643" stroke="#ededed"/>
<line x1="876.5" y1="37" x2="876.5" y2="643" stroke="#ededed"/>
<line x1="958.5" y1="37" x2="958.5" y2="643" stroke="#ededed"/>
<line x1="1040.5" y1="37" x2="1040.5" y2="643" stroke="#ededed"/>
<line x1="455" y1="419.5" x2="1116" y2="419.5" stroke="#ededed"/>
<line x1="455" y1="487.5" x2="1116" y2="487.5" stroke="#ededed"/>
<line x1="455" y1="556.5" x2="1116" y2="556.5" stroke="#ededed"/>
<line x1="455" y1="624.5" x2="1116" y2="624.5" stroke="#ededed"/>
<g clip-path="url(#cm)">
<polygon points="455.0,254.4 455.5,254.4 456.0,254.4 456.5,254.4 457.0,254.4 457.5,254.4 458.0,254.4 458.5,254.4 459.0,254.4 459.5,254.4 460.0,254.0 460.5,253.6 461.0,253.1 461.5,252.7 462.0,252.3 462.5,251.9 463.0,251.4 463.5,251.0 464.0,250.6 464.5,250.4 465.0,250.3 465.5,250.1 466.0,250.0 466.5,249.8 467.0,249.7 467.5,249.5 468.0,249.4 468.5,249.2 469.0,249.0 469.5,248.9 470.0,248.7 470.5,248.6 471.0,248.4 471.5,248.3 472.0,248.1 472.5,248.0 473.0,247.8 473.5,247.9 474.0,248.1 474.5,248.2 475.0,248.3 475.5,248.4 476.0,248.6 476.5,248.7 477.0,248.8 477.5,248.9 478.0,249.1 478.5,249.2 479.0,249.3 479.5,249.4 480.0,249.6 480.0,249.5 479.5,249.5 479.0,249.5 478.5,249.4 478.0,249.4 477.5,249.4 477.0,249.4 476.5,249.3 476.0,249.3 475.5,249.3 475.0,249.3 474.5,249.2 474.0,249.2 473.5,249.6 473.0,250.2 472.5,250.8 472.0,251.5 471.5,252.1 471.0,252.7 470.5,253.4 470.0,254.0 469.5,254.4 469.0,254.9 468.5,255.3 468.0,255.8 467.5,256.2 467.0,256.7 466.5,257.1 466.0,257.6 465.5,258.0 465.0,258.5 464.5,258.9 464.0,259.4 463.5,259.8 463.0,260.0 462.5,260.0 462.0,260.0 461.5,260.0 461.0,260.0 460.5,260.0 460.0,260.0 459.5,260.0 459.0,260.0 458.5,260.0 458.0,260.0 457.5,260.0 457.0,260.0 456.5,260.0 456.0,260.0 455.5,260.0 455.0,260.0" fill="rgba(90,190,90,0.17)"/>
<polygon points="480.0,249.6 480.5,249.7 481.0,249.8 481.5,250.0 482.0,250.6 482.5,251.2 483.0,251.7 483.5,252.3 484.0,252.9 484.5,253.4 485.0,254.0 485.5,254.6 486.0,255.2 486.5,255.5 487.0,255.6 487.5,255.7 488.0,255.7 488.5,255.8 489.0,255.8 489.5,255.9 490.0,256.0 490.5,256.0 491.0,256.1 491.5,256.1 492.0,256.2 492.5,256.3 493.0,256.3 493.5,256.4 494.0,256.5 494.5,256.5 495.0,256.6 495.5,256.7 496.0,256.7 496.5,256.8 497.0,256.8 497.5,256.8 498.0,256.8 498.5,256.8 499.0,256.8 499.5,256.8 500.0,256.8 500.5,256.8 501.0,256.8 501.5,256.7 502.0,256.7 502.5,256.7 503.0,256.7 503.5,256.7 504.0,256.7 504.5,256.7 505.0,256.7 505.5,256.7 506.0,256.7 506.5,256.7 507.0,256.7 507.5,256.7 508.0,256.7 508.5,256.7 509.0,256.7 509.5,256.7 510.0,256.7 510.5,256.7 511.0,256.6 511.5,256.6 512.0,256.6 512.5,256.6 513.0,256.6 513.5,256.6 514.0,256.6 514.5,256.6 515.0,256.6 515.5,256.6 516.0,256.6 516.5,256.6 517.0,256.6 517.5,256.6 518.0,256.6 518.5,256.6 519.0,256.6 519.5,256.6 520.0,256.5 520.5,256.5 521.0,256.5 521.5,256.5 522.0,256.5 522.5,256.5 523.0,256.5 523.5,256.5 524.0,256.5 524.5,256.5 525.0,256.8 525.5,257.1 526.0,257.4 526.5,257.7 527.0,258.0 527.5,258.3 528.0,258.7 528.5,259.0 529.0,259.3 529.5,259.6 530.0,259.9 530.5,260.2 531.0,260.5 531.5,260.8 532.0,261.1 532.5,261.4 533.0,261.7 533.5,262.0 534.0,262.3 534.5,262.6 535.0,263.0 535.5,263.3 536.0,263.6 536.5,263.9 537.0,264.2 537.5,264.5 538.0,264.8 538.5,265.1 539.0,265.4 539.5,265.7 540.0,265.9 540.5,266.0 541.0,266.1 541.5,266.2 542.0,266.3 542.5,266.4 543.0,266.4 543.5,266.5 544.0,266.6 544.5,266.7 545.0,266.8 545.5,266.9 546.0,266.9 546.5,267.0 547.0,267.1 547.5,267.2 548.0,267.3 548.5,267.4 549.0,267.4 549.5,267.5 550.0,267.6 550.5,267.7 551.0,267.8 551.5,267.9 552.0,267.9 552.5,268.0 553.0,268.0 553.5,268.0 554.0,268.0 554.5,268.0 555.0,268.0 555.5,268.0 556.0,268.0 556.5,268.0 557.0,268.0 557.5,268.0 558.0,268.0 558.5,268.0 559.0,268.0 559.5,268.0 560.0,268.0 560.5,268.2 561.0,268.3 561.5,268.5 562.0,268.7 562.5,268.8 563.0,269.0 563.5,269.1 564.0,269.3 564.5,269.5 565.0,269.6 565.5,269.8 566.0,270.0 566.5,270.1 567.0,270.3 567.5,270.5 568.0,270.6 568.5,270.8 569.0,270.9 569.5,271.1 570.0,271.3 570.5,271.4 571.0,271.6 571.5,271.7 572.0,271.9 572.5,272.0 573.0,272.2 573.5,272.3 574.0,272.4 574.5,272.6 575.0,272.7 575.5,272.9 576.0,273.0 576.5,273.2 577.0,273.3 577.5,273.5 578.0,273.6 578.5,273.8 579.0,273.9 579.5,274.1 580.0,274.2 580.5,274.2 581.0,274.2 581.5,274.2 582.0,274.3 582.5,274.3 583.0,274.3 583.5,274.3 584.0,274.3 584.5,274.3 585.0,274.4 585.5,274.4 586.0,274.4 586.5,274.4 587.0,274.4 587.5,274.4 588.0,274.5 588.5,274.5 589.0,274.5 589.5,274.5 590.0,274.5 590.5,274.5 591.0,274.6 591.5,274.6 592.0,274.6 592.5,274.6 593.0,274.6 593.5,274.6 594.0,274.7 594.5,274.7 595.0,274.7 595.5,274.7 596.0,274.7 596.5,274.8 597.0,274.8 597.5,274.8 598.0,274.8 598.5,274.8 599.0,274.8 599.5,274.8 600.0,274.9 600.5,274.9 601.0,274.9 601.5,275.2 602.0,275.5 602.5,275.8 603.0,276.1 603.5,276.4 604.0,276.7 604.5,277.0 605.0,277.3 605.5,277.6 606.0,277.9 606.5,278.2 607.0,278.6 607.5,278.9 608.0,279.1 608.5,279.1 609.0,279.1 609.5,279.1 610.0,279.1 610.5,279.1 611.0,279.1 611.5,279.1 612.0,279.1 612.5,279.1 613.0,279.1 613.5,279.1 614.0,279.1 614.5,279.1 615.0,279.1 615.5,279.1 616.0,279.1 616.5,279.1 617.0,279.1 617.5,279.1 618.0,279.1 618.5,279.1 619.0,279.1 619.5,279.1 620.0,279.1 620.5,279.1 621.0,279.1 621.5,279.1 622.0,279.1 622.5,279.1 623.0,279.1 623.5,279.1 624.0,279.1 624.5,279.1 625.0,279.1 625.5,279.1 626.0,279.1 626.5,279.1 627.0,279.1 627.5,279.1 628.0,279.1 628.5,279.1 629.0,278.9 629.5,278.5 630.0,278.1 630.5,277.7 631.0,277.3 631.5,276.9 632.0,276.5 632.5,276.1 633.0,275.7 633.5,275.3 634.0,274.9 634.5,274.6 635.0,274.2 635.5,273.8 636.0,273.4 636.5,273.0 637.0,272.6 637.5,272.2 638.0,271.8 638.5,271.4 639.0,271.0 639.5,270.6 640.0,270.2 640.5,269.8 641.0,269.5 641.5,269.3 642.0,269.3 642.5,269.3 643.0,269.3 643.5,269.3 644.0,269.3 644.5,269.3 645.0,269.3 645.5,269.3 646.0,269.4 646.5,269.4 647.0,269.4 647.5,269.4 648.0,269.4 648.5,269.4 649.0,269.4 649.5,269.4 650.0,269.4 650.5,269.4 651.0,269.4 651.5,269.4 652.0,269.4 652.5,269.4 653.0,269.4 653.5,269.4 654.0,269.4 654.5,269.4 655.0,269.4 655.5,269.5 656.0,269.5 656.5,269.5 657.0,269.5 657.5,269.5 658.0,269.5 658.5,269.5 659.0,269.5 659.5,269.5 660.0,269.5 660.5,269.6 661.0,269.7 661.5,269.8 662.0,269.8 662.5,269.9 663.0,270.0 663.5,270.1 664.0,270.2 664.5,270.3 665.0,270.3 665.5,270.4 666.0,270.5 666.5,270.6 667.0,270.7 667.5,270.8 668.0,270.8 668.5,270.9 669.0,271.0 669.5,271.1 670.0,271.2 670.5,271.3 671.0,271.4 671.5,271.4 672.0,271.5 672.5,271.6 673.0,271.7 673.5,271.8 674.0,271.9 674.5,271.9 675.0,272.0 675.5,272.1 676.0,272.2 676.5,272.3 677.0,272.4 677.5,272.4 678.0,272.5 678.5,272.6 679.0,272.7 679.5,272.8 680.0,272.9 680.5,272.9 681.0,273.0 681.5,272.9 682.0,272.9 682.5,272.9 683.0,272.8 683.5,272.8 684.0,272.7 684.5,272.7 685.0,272.6 685.5,272.6 686.0,272.6 686.5,272.5 687.0,272.5 687.5,272.4 688.0,272.4 688.5,272.4 689.0,272.3 689.5,272.5 690.0,272.8 690.5,273.1 691.0,273.3 691.5,273.6 692.0,273.9 692.5,274.2 693.0,274.5 693.5,274.8 694.0,275.1 694.5,275.4 695.0,275.7 695.5,275.9 696.0,276.2 696.5,276.5 697.0,276.8 697.5,277.1 698.0,277.1 698.5,277.2 699.0,277.2 699.5,277.2 700.0,277.3 700.5,277.3 701.0,277.4 701.5,277.4 702.0,277.4 702.5,277.5 703.0,277.5 703.5,277.5 704.0,277.6 704.5,277.6 705.0,277.6 705.5,277.7 706.0,277.7 706.5,277.7 707.0,277.8 707.5,277.8 708.0,277.9 708.5,277.9 709.0,277.9 709.5,278.0 710.0,278.0 710.5,278.0 711.0,278.1 711.5,278.2 712.0,278.5 712.5,278.8 713.0,279.1 713.5,279.4 714.0,279.6 714.5,279.9 715.0,280.2 715.5,280.5 716.0,280.8 716.5,281.1 717.0,281.4 717.5,281.7 718.0,282.0 718.5,282.3 719.0,282.6 719.5,282.9 720.0,283.1 720.5,283.1 721.0,283.1 721.5,283.1 722.0,283.1 722.5,283.1 723.0,283.1 723.5,283.1 724.0,283.1 724.5,283.1 725.0,283.1 725.5,283.1 726.0,283.1 726.5,283.1 727.0,283.1 727.5,283.1 728.0,283.1 728.5,283.1 729.0,283.1 729.5,283.1 730.0,283.1 730.5,283.1 731.0,283.1 731.5,283.1 732.0,283.1 732.5,283.1 733.0,283.1 733.5,283.1 734.0,283.1 734.5,283.1 735.0,283.1 735.5,283.1 736.0,283.1 736.5,283.1 737.0,283.1 737.5,283.1 738.0,283.1 738.5,283.1 739.0,283.1 739.5,283.1 740.0,283.1 740.5,283.1 741.0,283.1 741.5,283.1 742.0,283.1 742.5,283.1 743.0,283.1 743.5,283.1 744.0,283.1 744.5,283.1 745.0,283.1 745.5,283.1 746.0,283.1 746.5,283.1 747.0,283.1 747.5,283.1 748.0,283.1 748.5,283.1 749.0,283.1 749.5,283.1 750.0,283.1 750.5,283.1 751.0,283.1 751.5,283.1 752.0,283.1 752.5,283.1 753.0,283.1 753.5,283.1 754.0,283.1 754.5,283.1 755.0,283.1 755.5,283.1 756.0,283.1 756.5,283.1 757.0,283.1 757.5,283.1 758.0,283.3 758.5,283.4 759.0,283.5 759.5,283.6 760.0,283.7 760.5,283.8 761.0,283.9 761.5,284.1 762.0,284.2 762.5,284.3 763.0,284.4 763.5,284.5 764.0,284.6 764.5,284.7 765.0,284.9 765.5,285.0 766.0,285.0 766.5,285.0 767.0,285.0 767.5,285.0 768.0,285.0 768.5,285.0 769.0,285.0 769.5,285.0 770.0,285.0 770.5,285.0 771.0,285.0 771.5,285.0 772.0,285.0 772.5,285.0 773.0,285.0 773.5,285.0 774.0,285.0 774.5,285.0 775.0,285.0 775.5,285.0 776.0,285.0 776.5,285.0 777.0,285.0 777.5,285.0 778.0,285.0 778.5,285.0 779.0,283.9 779.5,281.3 780.0,278.6 780.5,276.0 781.0,273.3 781.5,270.7 782.0,268.0 782.5,265.4 783.0,262.7 783.5,260.1 784.0,257.4 784.0,257.7 783.5,260.0 783.0,262.2 782.5,264.4 782.0,266.6 781.5,268.9 781.0,271.1 780.5,273.3 780.0,275.6 779.5,277.8 779.0,280.0 778.5,280.9 778.0,280.9 777.5,280.9 777.0,280.9 776.5,280.9 776.0,280.9 775.5,280.9 775.0,280.9 774.5,280.9 774.0,280.9 773.5,280.9 773.0,280.9 772.5,280.9 772.0,280.9 771.5,280.9 771.0,280.9 770.5,280.9 770.0,280.9 769.5,280.9 769.0,280.9 768.5,280.9 768.0,280.9 767.5,280.9 767.0,280.9 766.5,280.9 766.0,280.9 765.5,280.9 765.0,280.9 764.5,280.9 764.0,280.9 763.5,280.9 763.0,280.9 762.5,280.9 762.0,280.9 761.5,280.9 761.0,280.9 760.5,280.9 760.0,280.9 759.5,280.9 759.0,280.9 758.5,280.9 758.0,280.9 757.5,280.9 757.0,280.9 756.5,280.9 756.0,280.9 755.5,280.9 755.0,280.9 754.5,280.9 754.0,280.9 753.5,280.9 753.0,280.9 752.5,280.9 752.0,280.9 751.5,280.9 751.0,280.9 750.5,280.9 750.0,280.9 749.5,280.9 749.0,280.9 748.5,280.9 748.0,280.9 747.5,280.9 747.0,280.9 746.5,280.9 746.0,280.9 745.5,280.9 745.0,280.9 744.5,280.9 744.0,280.9 743.5,280.9 743.0,280.9 742.5,280.9 742.0,280.9 741.5,280.9 741.0,280.9 740.5,280.9 740.0,280.9 739.5,280.9 739.0,280.9 738.5,280.9 738.0,280.9 737.5,280.9 737.0,280.9 736.5,280.9 736.0,280.9 735.5,280.9 735.0,280.9 734.5,280.9 734.0,280.9 733.5,280.9 733.0,280.9 732.5,280.9 732.0,280.9 731.5,280.9 731.0,280.9 730.5,280.9 730.0,280.9 729.5,280.9 729.0,280.9 728.5,280.9 728.0,280.9 727.5,280.9 727.0,280.9 726.5,280.9 726.0,280.9 725.5,280.9 725.0,280.9 724.5,280.9 724.0,280.9 723.5,280.9 723.0,280.9 722.5,280.9 722.0,280.9 721.5,280.9 721.0,280.9 720.5,280.9 720.0,280.9 719.5,280.9 719.0,280.9 718.5,280.9 718.0,280.7 717.5,280.5 717.0,280.3 716.5,280.1 716.0,279.8 715.5,279.6 715.0,279.4 714.5,279.2 714.0,279.0 713.5,278.7 713.0,278.5 712.5,278.3 712.0,278.1 711.5,277.8 711.0,277.8 710.5,277.7 710.0,277.7 709.5,277.6 709.0,277.6 708.5,277.5 708.0,277.5 707.5,277.4 707.0,277.4 706.5,277.3 706.0,277.3 705.5,277.2 705.0,277.2 704.5,277.1 704.0,277.1 703.5,277.0 703.0,277.0 702.5,276.9 702.0,276.9 701.5,276.8 701.0,276.8 700.5,276.7 700.0,276.7 699.5,276.6 699.0,276.6 698.5,276.5 698.0,276.5 697.5,276.4 697.0,276.1 696.5,275.8 696.0,275.5 695.5,275.2 695.0,275.0 694.5,274.7 694.0,274.4 693.5,274.1 693.0,273.8 692.5,273.5 692.0,273.2 691.5,272.9 691.0,272.6 690.5,272.4 690.0,272.1 689.5,271.8 689.0,271.6 688.5,271.5 688.0,271.5 687.5,271.5 687.0,271.4 686.5,271.4 686.0,271.3 685.5,271.3 685.0,271.2 684.5,271.2 684.0,271.2 683.5,271.1 683.0,271.1 682.5,271.0 682.0,271.0 681.5,271.0 681.0,270.9 680.5,270.8 680.0,270.5 679.5,270.3 679.0,270.1 678.5,269.9 678.0,269.6 677.5,269.4 677.0,269.2 676.5,269.0 676.0,268.7 675.5,268.5 675.0,268.3 674.5,268.1 674.0,267.8 673.5,267.8 673.0,267.8 672.5,267.7 672.0,267.7 671.5,267.7 671.0,267.6 670.5,267.6 670.0,267.6 669.5,267.6 669.0,267.5 668.5,267.5 668.0,267.5 667.5,267.4 667.0,267.4 666.5,267.4 666.0,267.4 665.5,267.3 665.0,267.3 664.5,267.3 664.0,267.3 663.5,267.3 663.0,267.3 662.5,267.3 662.0,267.3 661.5,267.3 661.0,267.3 660.5,267.3 660.0,267.3 659.5,267.3 659.0,267.3 658.5,267.3 658.0,267.3 657.5,267.3 657.0,267.3 656.5,267.3 656.0,267.3 655.5,267.3 655.0,267.3 654.5,267.3 654.0,267.3 653.5,267.3 653.0,267.3 652.5,267.3 652.0,267.3 651.5,267.3 651.0,267.3 650.5,267.3 650.0,267.3 649.5,267.3 649.0,267.3 648.5,267.3 648.0,267.3 647.5,267.3 647.0,267.3 646.5,267.3 646.0,267.3 645.5,267.3 645.0,267.3 644.5,267.3 644.0,267.3 643.5,267.3 643.0,267.3 642.5,267.3 642.0,267.3 641.5,267.3 641.0,267.3 640.5,267.3 640.0,267.3 639.5,267.3 639.0,267.3 638.5,267.3 638.0,267.3 637.5,267.3 637.0,267.3 636.5,267.3 636.0,267.3 635.5,267.3 635.0,267.3 634.5,267.3 634.0,267.3 633.5,267.3 633.0,267.3 632.5,267.3 632.0,267.3 631.5,267.3 631.0,267.3 630.5,267.3 630.0,267.3 629.5,267.3 629.0,267.3 628.5,267.3 628.0,267.3 627.5,267.3 627.0,267.3 626.5,267.3 626.0,267.3 625.5,267.3 625.0,267.3 624.5,267.3 624.0,267.3 623.5,267.3 623.0,267.3 622.5,267.3 622.0,267.3 621.5,267.3 621.0,267.3 620.5,267.3 620.0,267.3 619.5,267.3 619.0,267.3 618.5,267.3 618.0,267.3 617.5,267.3 617.0,267.3 616.5,267.3 616.0,267.3 615.5,267.3 615.0,267.3 614.5,267.3 614.0,267.3 613.5,267.3 613.0,267.3 612.5,267.3 612.0,267.3 611.5,267.3 611.0,267.3 610.5,267.3 610.0,267.3 609.5,267.3 609.0,267.3 608.5,267.3 608.0,267.3 607.5,266.8 607.0,266.3 606.5,265.7 606.0,265.1 605.5,264.5 605.0,263.9 604.5,263.3 604.0,262.8 603.5,262.2 603.0,261.6 602.5,261.0 602.0,260.4 601.5,259.8 601.0,259.2 600.5,258.7 600.0,258.1 599.5,257.5 599.0,257.5 598.5,257.5 598.0,257.5 597.5,257.5 597.0,257.5 596.5,257.5 596.0,257.5 595.5,257.5 595.0,257.5 594.5,257.5 594.0,257.5 593.5,257.5 593.0,257.5 592.5,257.5 592.0,257.5 591.5,257.5 591.0,257.5 590.5,257.5 590.0,257.5 589.5,257.5 589.0,257.5 588.5,257.5 588.0,257.5 587.5,257.5 587.0,257.5 586.5,257.5 586.0,257.5 585.5,257.5 585.0,257.5 584.5,257.5 584.0,257.5 583.5,257.5 583.0,257.5 582.5,257.5 582.0,257.5 581.5,257.5 581.0,257.5 580.5,257.5 580.0,257.5 579.5,257.5 579.0,257.5 578.5,257.5 578.0,257.5 577.5,257.5 577.0,257.5 576.5,257.5 576.0,257.5 575.5,257.5 575.0,257.5 574.5,257.5 574.0,257.5 573.5,257.5 573.0,257.5 572.5,257.5 572.0,257.5 571.5,257.5 571.0,257.5 570.5,257.5 570.0,257.5 569.5,257.5 569.0,257.5 568.5,257.5 568.0,257.5 567.5,257.5 567.0,257.5 566.5,257.5 566.0,257.2 565.5,256.6 565.0,255.9 564.5,255.2 564.0,254.6 563.5,253.9 563.0,253.2 562.5,252.5 562.0,251.9 561.5,251.2 561.0,250.5 560.5,249.9 560.0,249.2 559.5,248.2 559.0,247.2 558.5,246.2 558.0,245.2 557.5,244.3 557.0,243.3 556.5,242.3 556.0,241.3 555.5,240.3 555.0,239.4 554.5,238.8 554.0,238.3 553.5,237.7 553.0,237.1 552.5,236.6 552.0,236.0 551.5,235.4 551.0,234.9 550.5,234.3 550.0,233.7 549.5,233.2 549.0,232.6 548.5,232.0 548.0,231.5 547.5,230.9 547.0,230.8 546.5,230.8 546.0,230.8 545.5,230.8 545.0,230.8 544.5,230.8 544.0,230.8 543.5,230.8 543.0,230.8 542.5,230.8 542.0,230.8 541.5,230.8 541.0,230.7 540.5,230.6 540.0,230.5 539.5,230.4 539.0,230.2 538.5,230.1 538.0,230.0 537.5,229.8 537.0,229.7 536.5,229.6 536.0,229.5 535.5,229.3 535.0,229.2 534.5,229.1 534.0,229.0 533.5,229.0 533.0,229.0 532.5,229.0 532.0,229.0 531.5,229.0 531.0,229.0 530.5,229.0 530.0,229.0 529.5,229.0 529.0,229.0 528.5,229.0 528.0,229.0 527.5,229.0 527.0,229.0 526.5,229.0 526.0,229.0 525.5,229.0 525.0,229.0 524.5,229.0 524.0,229.2 523.5,229.4 523.0,229.7 522.5,229.9 522.0,230.1 521.5,230.3 521.0,230.6 520.5,230.8 520.0,231.0 519.5,231.2 519.0,231.4 518.5,231.7 518.0,232.1 517.5,232.9 517.0,233.7 516.5,234.5 516.0,235.3 515.5,236.1 515.0,236.9 514.5,237.7 514.0,238.5 513.5,239.3 513.0,240.1 512.5,241.0 512.0,241.8 511.5,242.6 511.0,243.4 510.5,244.0 510.0,244.0 509.5,244.0 509.0,244.0 508.5,244.0 508.0,244.0 507.5,244.0 507.0,244.0 506.5,244.0 506.0,244.0 505.5,244.0 505.0,244.0 504.5,244.0 504.0,244.0 503.5,244.0 503.0,244.0 502.5,244.0 502.0,244.0 501.5,244.0 501.0,244.0 500.5,244.0 500.0,244.0 499.5,244.0 499.0,244.0 498.5,244.0 498.0,244.0 497.5,244.0 497.0,244.0 496.5,244.0 496.0,244.0 495.5,244.0 495.0,244.0 494.5,244.0 494.0,244.0 493.5,244.0 493.0,244.0 492.5,244.0 492.0,244.2 491.5,244.3 491.0,244.5 490.5,244.7 490.0,244.9 489.5,245.0 489.0,245.2 488.5,245.4 488.0,245.6 487.5,245.7 487.0,245.9 486.5,246.1 486.0,246.3 485.5,246.5 485.0,246.9 484.5,247.2 484.0,247.6 483.5,248.0 483.0,248.4 482.5,248.8 482.0,249.1 481.5,249.5 481.0,249.6 480.5,249.6 480.0,249.5" fill="rgba(240,90,90,0.15)"/>
<polygon points="784.0,257.4 784.5,254.8 785.0,252.1 785.5,249.5 786.0,246.8 786.5,244.2 787.0,244.1 787.5,243.9 788.0,243.8 788.5,243.7 789.0,243.6 789.5,243.4 790.0,243.3 790.5,243.2 791.0,243.0 791.5,242.9 792.0,242.8 792.5,242.7 793.0,242.5 793.5,242.4 794.0,242.3 794.5,242.2 795.0,242.0 795.5,241.9 796.0,241.8 796.5,241.6 797.0,241.5 797.5,241.4 798.0,241.3 798.5,241.1 799.0,241.0 799.5,241.0 800.0,240.9 800.5,240.9 801.0,240.9 801.5,240.8 802.0,240.8 802.5,240.7 803.0,240.7 803.5,240.7 804.0,240.6 804.5,240.6 805.0,240.6 805.5,240.5 806.0,240.5 806.5,240.5 807.0,240.4 807.5,240.4 808.0,240.4 808.5,240.3 809.0,241.0 809.5,242.0 810.0,243.1 810.5,244.2 811.0,245.3 811.5,246.4 812.0,247.5 812.5,248.5 813.0,249.6 813.5,250.7 814.0,251.8 814.5,252.9 815.0,254.0 815.5,255.0 816.0,256.1 816.5,257.0 817.0,257.0 817.5,257.0 818.0,257.0 818.5,257.0 819.0,257.0 819.5,257.0 820.0,257.0 820.5,257.0 821.0,257.0 821.5,257.0 822.0,257.0 822.5,257.0 823.0,257.0 823.5,257.0 824.0,257.0 824.5,257.0 825.0,257.0 825.5,257.0 826.0,257.0 826.5,257.0 827.0,257.0 827.5,257.0 828.0,257.0 828.5,257.0 829.0,257.0 829.5,257.0 830.0,257.0 830.5,257.0 831.0,257.0 831.5,257.0 832.0,257.0 832.5,257.0 833.0,257.0 833.5,257.0 834.0,257.0 834.5,257.0 835.0,257.0 835.5,257.0 836.0,257.0 836.5,257.0 837.0,257.0 837.5,257.0 838.0,257.0 838.5,257.0 839.0,257.0 839.5,257.0 840.0,257.0 840.5,257.0 841.0,257.0 841.5,257.0 842.0,257.0 842.5,257.0 843.0,257.0 843.5,257.0 844.0,257.0 844.5,257.0 845.0,257.0 845.5,257.0 846.0,257.0 846.5,257.3 846.5,257.0 846.0,257.0 845.5,257.0 845.0,257.0 844.5,257.0 844.0,257.0 843.5,257.0 843.0,257.0 842.5,257.0 842.0,257.0 841.5,257.0 841.0,257.0 840.5,257.0 840.0,257.0 839.5,257.0 839.0,257.0 838.5,257.0 838.0,257.0 837.5,257.0 837.0,257.0 836.5,257.0 836.0,257.0 835.5,257.0 835.0,257.0 834.5,257.0 834.0,257.0 833.5,257.0 833.0,257.0 832.5,257.0 832.0,257.0 831.5,257.0 831.0,257.0 830.5,257.0 830.0,257.0 829.5,257.0 829.0,257.0 828.5,257.0 828.0,257.0 827.5,257.0 827.0,257.0 826.5,257.0 826.0,257.0 825.5,257.0 825.0,257.0 824.5,257.0 824.0,257.0 823.5,257.0 823.0,257.0 822.5,257.0 822.0,257.0 821.5,257.0 821.0,257.0 820.5,257.0 820.0,257.0 819.5,257.0 819.0,257.0 818.5,257.0 818.0,257.0 817.5,257.0 817.0,257.0 816.5,257.0 816.0,256.5 815.5,255.8 815.0,255.1 814.5,254.4 814.0,253.8 813.5,253.1 813.0,252.4 812.5,251.7 812.0,251.1 811.5,250.4 811.0,249.7 810.5,249.0 810.0,248.4 809.5,247.7 809.0,247.0 808.5,246.6 808.0,246.6 807.5,246.6 807.0,246.6 806.5,246.6 806.0,246.6 805.5,246.6 805.0,246.6 804.5,246.6 804.0,246.6 803.5,246.6 803.0,246.6 802.5,246.6 802.0,246.6 801.5,246.6 801.0,246.6 800.5,246.6 800.0,246.6 799.5,246.6 799.0,246.6 798.5,246.6 798.0,246.6 797.5,246.6 797.0,246.6 796.5,246.6 796.0,246.6 795.5,246.6 795.0,246.6 794.5,246.6 794.0,246.6 793.5,246.6 793.0,246.6 792.5,246.6 792.0,246.6 791.5,246.6 791.0,246.6 790.5,246.6 790.0,246.6 789.5,246.6 789.0,246.6 788.5,246.6 788.0,246.6 787.5,246.6 787.0,246.6 786.5,246.6 786.0,248.8 785.5,251.1 785.0,253.3 784.5,255.5 784.0,257.7" fill="rgba(90,190,90,0.17)"/>
<polygon points="846.5,257.3 847.0,257.8 847.5,258.2 848.0,258.7 848.5,259.2 849.0,259.7 849.5,260.2 850.0,260.6 850.5,261.1 851.0,261.6 851.5,262.1 852.0,262.6 852.5,263.0 853.0,263.5 853.5,263.7 854.0,263.7 854.5,263.7 855.0,263.7 855.5,263.7 856.0,263.7 856.5,263.7 857.0,263.7 857.5,263.7 858.0,263.7 858.5,263.7 859.0,263.7 859.5,263.7 860.0,263.7 860.5,263.7 861.0,263.7 861.5,263.7 862.0,263.0 862.5,262.3 863.0,261.7 863.5,261.0 864.0,260.3 864.5,259.6 865.0,258.9 865.5,258.2 866.0,257.6 866.5,256.9 867.0,256.2 867.5,255.5 868.0,254.8 868.5,254.1 869.0,253.5 869.5,252.8 870.0,252.1 870.0,252.1 869.5,252.4 869.0,252.7 868.5,253.0 868.0,253.3 867.5,253.5 867.0,253.8 866.5,254.1 866.0,254.4 865.5,254.7 865.0,255.0 864.5,255.3 864.0,255.6 863.5,255.8 863.0,256.1 862.5,256.4 862.0,256.7 861.5,257.0 861.0,257.0 860.5,257.0 860.0,257.0 859.5,257.0 859.0,257.0 858.5,257.0 858.0,257.0 857.5,257.0 857.0,257.0 856.5,257.0 856.0,257.0 855.5,257.0 855.0,257.0 854.5,257.0 854.0,257.0 853.5,257.0 853.0,257.0 852.5,257.0 852.0,257.0 851.5,257.0 851.0,257.0 850.5,257.0 850.0,257.0 849.5,257.0 849.0,257.0 848.5,257.0 848.0,257.0 847.5,257.0 847.0,257.0 846.5,257.0" fill="rgba(240,90,90,0.15)"/>
<polygon points="870.0,252.1 870.5,251.8 871.0,251.4 871.5,251.1 872.0,250.8 872.5,250.4 873.0,250.1 873.5,249.7 874.0,249.4 874.5,249.1 875.0,248.7 875.5,248.4 876.0,248.1 876.5,247.9 877.0,247.7 877.5,247.6 878.0,247.4 878.5,247.3 879.0,247.1 879.5,247.0 880.0,246.8 880.5,246.7 881.0,246.5 881.5,246.4 882.0,246.2 882.5,246.1 883.0,245.9 883.5,245.5 884.0,245.0 884.5,244.5 885.0,244.0 885.5,243.5 886.0,243.0 886.5,242.5 887.0,242.0 887.5,241.5 888.0,241.0 888.5,240.5 889.0,240.0 889.5,239.5 890.0,239.0 890.5,238.5 891.0,238.3 891.5,238.3 892.0,238.3 892.5,238.3 893.0,238.3 893.5,238.3 894.0,238.3 894.5,238.3 895.0,238.3 895.5,238.3 896.0,238.3 896.5,238.3 897.0,238.3 897.5,238.3 898.0,238.3 898.5,238.3 899.0,238.3 899.5,238.3 900.0,238.3 900.5,238.3 901.0,238.3 901.5,238.3 902.0,238.3 902.5,238.3 903.0,238.3 903.5,238.3 904.0,238.3 904.5,238.3 905.0,238.3 905.5,238.3 906.0,238.3 906.5,238.3 907.0,238.3 907.5,238.3 908.0,238.3 908.5,238.3 909.0,238.3 909.5,238.3 910.0,238.3 910.5,238.3 911.0,238.3 911.5,238.3 912.0,238.3 912.5,238.3 913.0,238.3 913.5,238.3 914.0,238.3 914.5,238.3 915.0,238.3 915.5,238.3 916.0,238.3 916.5,238.3 917.0,238.3 917.5,238.3 918.0,238.3 918.5,238.3 919.0,238.3 919.5,238.3 920.0,238.3 920.5,238.3 921.0,238.3 921.5,238.3 922.0,238.3 922.5,238.3 923.0,238.3 923.5,238.3 924.0,238.3 924.5,238.3 925.0,238.3 925.5,238.3 926.0,238.3 926.5,238.3 927.0,238.3 927.5,238.3 928.0,238.3 928.5,236.7 929.0,234.0 929.5,231.4 930.0,228.7 930.5,226.1 931.0,223.4 931.5,220.8 932.0,218.1 932.5,215.4 933.0,212.8 933.5,210.1 934.0,207.5 934.5,204.8 935.0,202.2 935.5,201.1 936.0,201.0 936.5,201.0 937.0,201.0 937.5,200.9 938.0,200.9 938.5,200.9 939.0,200.8 939.5,200.8 940.0,200.7 940.5,200.7 941.0,200.7 941.5,200.6 942.0,200.6 942.5,200.6 943.0,200.5 943.5,200.5 944.0,200.4 944.5,200.4 945.0,200.4 945.5,200.3 946.0,200.3 946.5,200.2 947.0,200.2 947.5,200.2 948.0,200.1 948.5,200.1 949.0,200.1 949.5,200.0 950.0,199.8 950.5,199.2 951.0,198.6 951.5,198.1 952.0,197.5 952.5,196.9 953.0,196.4 953.5,195.8 954.0,195.3 954.5,194.7 955.0,194.1 955.5,193.6 956.0,193.0 956.5,192.4 957.0,191.9 957.5,191.3 958.0,190.7 958.5,190.2 959.0,189.6 959.5,189.0 960.0,188.5 960.5,187.9 961.0,187.3 961.5,186.8 962.0,186.2 962.5,185.6 963.0,185.1 963.5,184.5 964.0,183.9 964.5,183.4 965.0,182.8 965.5,182.6 966.0,182.5 966.5,182.5 967.0,182.4 967.5,182.3 968.0,182.2 968.5,182.1 969.0,182.0 969.5,182.0 970.0,181.9 970.5,181.8 971.0,181.7 971.5,181.6 972.0,181.5 972.5,181.5 973.0,181.4 973.5,181.2 974.0,180.6 974.5,180.1 975.0,179.5 975.5,179.0 976.0,178.4 976.5,177.9 977.0,177.3 977.5,176.8 978.0,176.2 978.5,175.7 979.0,175.1 979.5,174.6 980.0,174.0 980.5,173.6 981.0,173.5 981.5,173.5 982.0,173.4 982.5,173.4 983.0,173.3 983.5,173.3 984.0,173.2 984.5,173.2 985.0,173.1 985.5,173.1 986.0,173.0 986.5,173.0 987.0,172.9 987.5,172.8 988.0,172.5 988.5,172.2 989.0,171.9 989.5,171.6 990.0,171.3 990.5,171.0 991.0,170.8 991.5,170.5 992.0,170.2 992.5,169.9 993.0,169.6 993.5,169.3 994.0,169.0 994.5,168.7 995.0,168.4 995.5,168.2 996.0,167.9 996.5,167.7 997.0,167.5 997.5,167.3 998.0,167.1 998.5,166.9 999.0,166.7 999.5,166.5 1000.0,166.3 1000.5,166.1 1001.0,165.9 1001.5,165.7 1002.0,165.5 1002.5,165.3 1003.0,165.1 1003.5,164.9 1004.0,164.7 1004.5,164.4 1005.0,164.2 1005.5,164.0 1006.0,163.8 1006.5,163.6 1007.0,163.4 1007.5,163.2 1008.0,162.9 1008.5,162.7 1009.0,162.4 1009.5,162.2 1010.0,161.9 1010.5,161.7 1011.0,161.4 1011.5,161.2 1012.0,160.9 1012.5,160.7 1013.0,160.4 1013.5,160.2 1014.0,159.9 1014.5,159.7 1015.0,159.4 1015.5,159.2 1016.0,158.9 1016.5,158.7 1017.0,158.4 1017.5,158.1 1018.0,157.7 1018.5,157.4 1019.0,157.0 1019.5,156.7 1020.0,156.3 1020.5,156.0 1021.0,155.6 1021.5,155.3 1022.0,154.9 1022.5,154.6 1023.0,154.2 1023.5,153.9 1024.0,153.5 1024.5,153.2 1025.0,152.8 1025.5,152.5 1026.0,152.1 1026.5,151.7 1027.0,151.4 1027.5,151.0 1028.0,150.7 1028.5,150.3 1029.0,150.0 1029.5,149.6 1030.0,149.3 1030.5,148.9 1031.0,148.6 1031.5,148.2 1032.0,147.9 1032.5,147.8 1033.0,147.7 1033.5,147.7 1034.0,147.7 1034.5,147.7 1035.0,147.6 1035.5,147.6 1036.0,147.6 1036.5,147.5 1037.0,147.5 1037.5,147.5 1038.0,147.5 1038.5,147.4 1039.0,147.4 1039.5,147.4 1040.0,147.3 1040.5,147.3 1041.0,147.3 1041.5,147.3 1042.0,147.2 1042.5,147.2 1043.0,147.2 1043.5,147.1 1044.0,147.1 1044.5,147.1 1045.0,147.1 1045.5,147.0 1046.0,147.0 1046.5,147.0 1047.0,146.9 1047.5,146.9 1048.0,146.9 1048.5,146.8 1049.0,146.8 1049.5,146.8 1050.0,146.8 1050.5,146.7 1051.0,146.7 1051.5,146.7 1052.0,146.6 1052.5,146.6 1053.0,146.6 1053.5,146.6 1054.0,146.5 1054.5,146.5 1055.0,143.9 1055.5,141.4 1056.0,138.8 1056.5,136.2 1057.0,133.7 1057.5,131.1 1058.0,128.5 1058.5,125.9 1059.0,123.4 1059.5,120.8 1060.0,118.2 1060.5,115.7 1061.0,113.1 1061.5,110.5 1062.0,109.4 1062.5,109.3 1063.0,109.2 1063.5,109.1 1064.0,109.0 1064.5,108.9 1065.0,108.7 1065.5,108.6 1066.0,108.5 1066.5,108.4 1067.0,108.3 1067.5,108.2 1068.0,108.0 1068.5,107.9 1069.0,107.9 1069.5,107.9 1070.0,107.9 1070.5,107.9 1071.0,107.9 1071.5,107.9 1072.0,107.9 1072.5,107.9 1073.0,107.9 1073.5,107.9 1074.0,107.9 1074.5,107.9 1075.0,107.9 1075.5,107.9 1076.0,107.9 1076.5,107.9 1077.0,107.9 1077.5,107.9 1078.0,107.9 1078.5,107.9 1079.0,107.9 1079.5,107.9 1080.0,107.9 1080.5,107.9 1081.0,107.9 1081.5,107.9 1082.0,107.9 1082.5,107.9 1083.0,107.9 1083.5,107.9 1084.0,107.9 1084.5,107.9 1085.0,107.9 1085.5,107.9 1086.0,107.9 1086.5,108.0 1087.0,108.1 1087.5,108.2 1088.0,108.3 1088.5,108.4 1089.0,108.5 1089.5,108.7 1090.0,108.8 1090.5,108.9 1091.0,109.0 1091.5,109.1 1092.0,109.0 1092.5,108.8 1093.0,108.6 1093.5,108.5 1094.0,108.3 1094.5,108.1 1095.0,108.0 1095.5,107.8 1096.0,107.6 1096.5,107.4 1097.0,107.3 1097.5,107.1 1098.0,106.9 1098.5,106.8 1099.0,106.6 1099.5,106.4 1100.0,106.3 1100.5,106.2 1101.0,106.2 1101.5,106.1 1102.0,106.0 1102.5,106.0 1103.0,105.9 1103.5,105.8 1104.0,105.8 1104.5,105.7 1105.0,105.6 1105.5,105.6 1106.0,105.5 1106.5,105.4 1107.0,105.4 1107.5,105.3 1108.0,105.2 1108.5,105.2 1109.0,105.1 1109.5,105.0 1110.0,105.0 1110.5,104.9 1111.0,104.9 1111.5,104.8 1112.0,104.7 1112.5,104.7 1113.0,104.6 1113.5,104.5 1114.0,104.5 1114.5,104.4 1115.0,104.3 1115.5,104.3 1116.0,104.2 1116.0,218.8 1115.5,218.8 1115.0,218.8 1114.5,218.8 1114.0,218.8 1113.5,218.8 1113.0,218.8 1112.5,218.8 1112.0,218.8 1111.5,218.8 1111.0,218.8 1110.5,218.8 1110.0,218.8 1109.5,218.8 1109.0,218.8 1108.5,218.8 1108.0,218.8 1107.5,218.8 1107.0,218.8 1106.5,218.8 1106.0,218.8 1105.5,218.8 1105.0,218.8 1104.5,218.8 1104.0,218.8 1103.5,218.8 1103.0,218.8 1102.5,218.8 1102.0,218.8 1101.5,218.8 1101.0,218.8 1100.5,218.8 1100.0,218.8 1099.5,218.8 1099.0,218.8 1098.5,218.8 1098.0,218.8 1097.5,218.8 1097.0,218.8 1096.5,218.8 1096.0,218.8 1095.5,218.8 1095.0,218.8 1094.5,218.8 1094.0,218.8 1093.5,218.8 1093.0,218.8 1092.5,218.8 1092.0,218.8 1091.5,218.8 1091.0,218.8 1090.5,218.8 1090.0,218.8 1089.5,218.8 1089.0,218.8 1088.5,218.8 1088.0,218.8 1087.5,218.8 1087.0,218.8 1086.5,218.8 1086.0,218.8 1085.5,218.8 1085.0,218.8 1084.5,218.8 1084.0,218.8 1083.5,218.8 1083.0,218.8 1082.5,218.8 1082.0,218.8 1081.5,218.8 1081.0,218.8 1080.5,218.8 1080.0,218.8 1079.5,218.8 1079.0,218.8 1078.5,218.8 1078.0,218.8 1077.5,218.8 1077.0,218.8 1076.5,218.8 1076.0,218.8 1075.5,218.8 1075.0,218.8 1074.5,218.8 1074.0,218.8 1073.5,218.8 1073.0,218.8 1072.5,218.8 1072.0,218.8 1071.5,218.8 1071.0,218.8 1070.5,218.8 1070.0,218.8 1069.5,218.8 1069.0,218.8 1068.5,218.8 1068.0,218.8 1067.5,218.8 1067.0,218.8 1066.5,218.8 1066.0,218.8 1065.5,218.8 1065.0,218.8 1064.5,218.8 1064.0,218.8 1063.5,218.8 1063.0,218.8 1062.5,218.8 1062.0,218.8 1061.5,218.8 1061.0,218.8 1060.5,218.8 1060.0,218.8 1059.5,218.8 1059.0,218.8 1058.5,218.8 1058.0,218.8 1057.5,218.8 1057.0,218.8 1056.5,218.8 1056.0,218.8 1055.5,218.8 1055.0,218.8 1054.5,218.8 1054.0,218.8 1053.5,218.8 1053.0,218.8 1052.5,218.8 1052.0,218.8 1051.5,218.8 1051.0,218.8 1050.5,218.8 1050.0,218.8 1049.5,218.8 1049.0,218.8 1048.5,218.8 1048.0,218.8 1047.5,218.8 1047.0,218.8 1046.5,218.8 1046.0,218.8 1045.5,218.8 1045.0,218.8 1044.5,218.8 1044.0,218.8 1043.5,218.8 1043.0,218.8 1042.5,218.8 1042.0,218.8 1041.5,218.8 1041.0,218.8 1040.5,218.8 1040.0,218.8 1039.5,218.8 1039.0,218.8 1038.5,218.8 1038.0,218.8 1037.5,218.8 1037.0,218.8 1036.5,218.8 1036.0,218.8 1035.5,218.8 1035.0,218.8 1034.5,218.8 1034.0,218.8 1033.5,218.8 1033.0,218.8 1032.5,218.8 1032.0,218.8 1031.5,218.8 1031.0,218.8 1030.5,218.8 1030.0,218.8 1029.5,218.8 1029.0,218.8 1028.5,218.8 1028.0,218.8 1027.5,218.8 1027.0,218.8 1026.5,218.8 1026.0,218.8 1025.5,218.8 1025.0,218.8 1024.5,218.8 1024.0,218.8 1023.5,218.8 1023.0,218.8 1022.5,218.8 1022.0,218.8 1021.5,218.8 1021.0,218.8 1020.5,218.8 1020.0,218.8 1019.5,218.8 1019.0,218.8 1018.5,218.8 1018.0,218.8 1017.5,218.8 1017.0,218.8 1016.5,218.8 1016.0,218.8 1015.5,218.8 1015.0,218.8 1014.5,218.8 1014.0,218.8 1013.5,218.8 1013.0,218.8 1012.5,218.8 1012.0,218.8 1011.5,218.8 1011.0,218.8 1010.5,218.8 1010.0,218.8 1009.5,218.8 1009.0,218.8 1008.5,218.9 1008.0,218.9 1007.5,219.0 1007.0,219.0 1006.5,219.1 1006.0,219.1 1005.5,219.2 1005.0,219.2 1004.5,219.3 1004.0,219.3 1003.5,219.4 1003.0,219.4 1002.5,219.5 1002.0,219.5 1001.5,219.6 1001.0,219.6 1000.5,219.7 1000.0,219.7 999.5,219.8 999.0,219.8 998.5,219.9 998.0,219.9 997.5,220.0 997.0,220.0 996.5,220.1 996.0,220.1 995.5,220.2 995.0,220.2 994.5,220.4 994.0,220.7 993.5,220.9 993.0,221.1 992.5,221.3 992.0,221.6 991.5,221.8 991.0,222.0 990.5,222.2 990.0,222.5 989.5,222.7 989.0,222.9 988.5,223.2 988.0,223.4 987.5,223.6 987.0,223.7 986.5,223.7 986.0,223.7 985.5,223.7 985.0,223.7 984.5,223.7 984.0,223.7 983.5,223.7 983.0,223.7 982.5,223.7 982.0,223.7 981.5,223.7 981.0,223.7 980.5,223.7 980.0,224.1 979.5,224.5 979.0,225.0 978.5,225.5 978.0,225.9 977.5,226.4 977.0,226.9 976.5,227.3 976.0,227.8 975.5,228.3 975.0,228.7 974.5,229.2 974.0,229.7 973.5,230.2 973.0,230.6 972.5,230.9 972.0,230.9 971.5,230.9 971.0,230.9 970.5,230.9 970.0,230.9 969.5,230.9 969.0,230.9 968.5,230.9 968.0,230.9 967.5,230.9 967.0,230.9 966.5,230.9 966.0,230.9 965.5,230.9 965.0,231.0 964.5,231.6 964.0,232.2 963.5,232.8 963.0,233.4 962.5,233.9 962.0,234.5 961.5,235.1 961.0,235.7 960.5,236.3 960.0,236.9 959.5,237.5 959.0,238.0 958.5,238.6 958.0,239.2 957.5,239.8 957.0,240.4 956.5,241.0 956.0,241.6 955.5,242.1 955.0,242.7 954.5,243.3 954.0,243.9 953.5,244.5 953.0,245.1 952.5,245.7 952.0,246.2 951.5,246.8 951.0,247.4 950.5,248.0 950.0,248.0 949.5,248.0 949.0,248.0 948.5,248.0 948.0,248.0 947.5,248.0 947.0,248.0 946.5,248.0 946.0,248.0 945.5,248.0 945.0,248.0 944.5,248.0 944.0,248.0 943.5,248.0 943.0,248.0 942.5,248.0 942.0,248.0 941.5,248.0 941.0,248.0 940.5,248.0 940.0,248.0 939.5,248.0 939.0,248.0 938.5,248.0 938.0,248.0 937.5,248.0 937.0,248.0 936.5,248.0 936.0,248.0 935.5,248.0 935.0,248.0 934.5,248.0 934.0,248.0 933.5,248.0 933.0,248.0 932.5,248.0 932.0,248.0 931.5,248.0 931.0,248.0 930.5,248.0 930.0,248.0 929.5,248.0 929.0,248.0 928.5,248.0 928.0,248.0 927.5,248.0 927.0,248.0 926.5,248.0 926.0,248.0 925.5,248.0 925.0,248.0 924.5,248.0 924.0,248.0 923.5,248.0 923.0,248.0 922.5,248.0 922.0,248.0 921.5,248.0 921.0,248.0 920.5,248.0 920.0,248.0 919.5,248.0 919.0,248.0 918.5,248.0 918.0,248.0 917.5,248.0 917.0,248.0 916.5,248.0 916.0,248.0 915.5,248.0 915.0,248.0 914.5,248.0 914.0,248.0 913.5,248.0 913.0,248.0 912.5,248.0 912.0,248.0 911.5,248.0 911.0,248.0 910.5,248.0 910.0,248.0 909.5,248.0 909.0,248.0 908.5,248.0 908.0,248.0 907.5,248.0 907.0,248.0 906.5,248.0 906.0,248.0 905.5,248.0 905.0,248.0 904.5,248.0 904.0,248.0 903.5,248.0 903.0,248.0 902.5,248.0 902.0,248.0 901.5,248.0 901.0,248.0 900.5,248.0 900.0,248.0 899.5,248.0 899.0,248.0 898.5,248.0 898.0,248.0 897.5,248.0 897.0,248.0 896.5,248.0 896.0,248.0 895.5,248.0 895.0,248.0 894.5,248.0 894.0,248.0 893.5,248.0 893.0,248.0 892.5,248.0 892.0,248.0 891.5,248.0 891.0,248.0 890.5,248.0 890.0,248.0 889.5,248.0 889.0,248.0 888.5,248.0 888.0,248.0 887.5,248.0 887.0,248.0 886.5,248.0 886.0,248.0 885.5,248.0 885.0,248.0 884.5,248.0 884.0,248.0 883.5,248.0 883.0,248.0 882.5,248.0 882.0,248.0 881.5,248.0 881.0,248.0 880.5,248.0 880.0,248.0 879.5,248.0 879.0,248.0 878.5,248.0 878.0,248.0 877.5,248.0 877.0,248.0 876.5,248.0 876.0,248.1 875.5,248.4 875.0,248.7 874.5,249.1 874.0,249.4 873.5,249.7 873.0,250.1 872.5,250.4 872.0,250.8 871.5,251.1 871.0,251.4 870.5,251.8 870.0,252.1" fill="rgba(90,190,90,0.17)"/>
</g>
<g clip-path="url(#cm)" fill="none" stroke-width="1.2">
<polyline points="455.0,260.0 463.3,260.0 470.0,254.0 473.8,249.2 481.4,249.6 485.6,246.4 492.5,244.0 510.6,244.0 518.2,231.8 524.5,229.0 534.2,229.0 541.2,230.8 547.4,230.8 555.1,239.5 560.0,249.2 566.2,257.5 599.5,257.5 607.9,267.3 664.9,267.3 673.9,267.8 680.8,270.9 689.2,271.6 697.5,276.4 711.4,277.8 718.4,280.9 778.8,280.9 786.5,246.6 808.7,246.6 816.4,257.0 861.5,257.0 870.0,252.1 876.1,248.0 950.5,248.0 965.1,230.9 972.7,230.9 980.4,223.7 987.3,223.7 995.0,220.2 1009.5,218.8 1116.0,218.8" stroke="#e39393"/>
<polyline points="455.0,254.4 459.5,254.4 464.0,250.6 473.0,247.8 481.4,249.9 486.3,255.5 496.7,256.8 524.5,256.5 539.8,265.9 552.3,268.0 560.0,268.0 570.4,271.4 580.0,274.2 601.0,274.9 607.9,279.1 628.7,279.1 641.2,269.3 660.0,269.5 680.8,273.0 689.2,272.3 697.5,277.1 711.4,278.1 719.8,283.1 757.3,283.1 765.6,285.0 778.8,285.0 786.5,244.2 799.0,241.0 808.7,240.3 816.4,257.0 846.2,257.0 853.2,263.7 861.5,263.7 870.0,252.1 876.1,248.0 883.1,245.9 890.7,238.3 928.2,238.3 935.2,201.1 949.8,200.0 965.1,182.7 973.4,181.3 980.4,173.6 987.3,172.9 995.6,168.1 1007.3,163.3 1017.2,158.3 1032.1,147.8 1054.5,146.5 1061.7,109.5 1068.6,107.9 1086.0,107.9 1091.6,109.1 1099.9,106.3 1116.0,104.2" stroke="#8ccc8c"/>
<polyline points="455.0,284.5 459.5,272.9 466.9,278.6 474.4,303.9 481.8,153.8 489.3,155.0 496.7,161.9 504.2,150.1 511.6,153.0 519.1,154.1 526.5,158.8 534.0,159.7 541.4,156.9 548.9,139.1 556.3,142.0 563.7,136.5 571.2,122.0 578.6,113.0 586.1,106.1 593.5,89.4 601.0,91.0 608.4,86.8 615.9,80.1 623.3,86.8 630.8,74.7 638.2,89.2 645.6,112.5 653.1,103.7 660.5,97.8 668.0,89.8 675.4,83.0 682.9,100.3 690.3,105.7 697.8,92.2 705.2,94.6 712.7,97.8 720.1,95.2 727.6,92.4 735.0,94.8 742.4,96.0 749.9,83.0 757.3,89.0 764.8,89.0 772.2,94.6 779.7,92.2 787.1,102.9 794.6,115.5 802.0,132.9 809.5,153.6 816.9,164.5 824.4,154.0 831.8,159.0 839.2,161.4 846.7,142.0 854.1,153.6 861.6,170.5 869.0,182.5 876.5,159.3 883.9,176.7 891.4,185.6 898.8,170.7 906.3,165.2 913.7,150.3 921.2,149.0 928.2,164.6 935.9,170.6 943.5,156.3 950.5,153.5 958.1,211.2 965.1,196.6 988.0,129.2 995.0,153.6 1002.6,110.5 1009.5,109.8 1020.7,127.2 1032.0,148.3 1040.2,129.3" stroke="#a9bb93"/>
<polyline points="455.0,269.7 465.4,270.0 502.3,277.0 521.0,279.8 519.1,279.0 526.5,283.2 534.0,283.2 541.4,283.2 548.9,283.2 556.3,283.2 563.7,283.3 571.2,287.5 578.6,287.5 586.1,287.5 593.5,240.6 601.0,238.9 608.4,234.4 615.9,234.4 623.3,256.4 630.8,256.4 638.2,256.4 645.6,256.4 653.1,256.4 660.5,269.9 668.0,269.9 675.4,253.6 682.9,247.9 690.3,243.8 697.8,229.0 705.2,229.0 712.7,228.3 720.1,228.3 727.6,228.3 735.0,228.3 742.4,154.9 749.9,153.0 757.3,151.7 764.8,144.1 772.2,134.1 779.7,132.9 787.1,125.3 794.6,122.5 802.0,116.5 809.5,110.7 816.9,108.2 824.4,106.7 831.8,99.2 839.2,95.0 846.7,93.6 854.1,93.6 861.6,93.6 869.0,93.6 876.5,93.6 883.9,93.6 891.4,93.6 898.8,95.0 906.3,93.6 913.7,91.6 921.2,91.6 928.6,91.6 936.0,96.3 943.5,93.0 950.9,91.6 958.4,90.2 965.8,90.2 973.3,90.2 980.7,91.6 988.2,100.5 995.6,106.5 1003.1,115.5 1010.5,124.1 1017.9,124.1 1025.4,126.8 1032.8,130.1 1040.3,130.1 1047.7,137.0 1055.2,147.4 1062.6,158.7 1070.1,163.3 1077.5,163.3 1085.0,163.3 1092.4,164.6 1099.9,164.6 1107.3,167.6 1114.7,168.9" stroke="#b87478"/>
<polyline points="455.0,267.3 460.6,267.3 465.4,269.4 479.3,270.0 487.0,273.5 495.3,273.2 502.3,277.7 519.0,278.7 525.9,283.3 585.6,283.2 594.0,246.4 616.2,246.4 624.6,256.8 664.9,256.8 645.6,256.4 653.1,256.4 660.5,256.4 668.0,256.4 675.4,253.6 682.9,247.9 690.3,247.9 697.8,247.9 705.2,247.9 712.7,247.9 720.1,247.9 727.6,247.9 735.0,247.9 742.4,247.9 749.9,247.9 757.3,247.9 764.8,240.5 772.2,230.5 779.7,230.5 787.1,222.9 794.6,222.9 802.0,220.0 809.5,220.0 816.9,214.7 824.4,199.8 831.8,199.8 839.2,199.2 846.7,199.2 854.1,199.2 861.6,199.2 869.0,125.8 876.5,122.3 883.9,122.3 891.4,122.3 898.8,122.3 906.3,121.2 913.7,121.2 921.2,118.3 928.6,115.3 936.0,109.5 943.5,108.2 950.9,106.7 958.4,99.2 965.8,95.0 973.3,93.6 980.7,93.6 988.2,99.1 995.6,105.1 1003.1,114.2 1010.5,122.7 1017.9,122.7 1025.4,124.1 1032.8,124.1 1040.3,124.1 1047.7,124.1 1055.2,128.4 1062.6,134.1 1070.1,134.1 1077.5,134.1 1085.0,134.1 1092.4,135.3 1099.9,135.3 1107.3,135.3 1114.7,135.3" stroke="#72b6ea"/>
</g>
<line x1="455" y1="75.8" x2="1116" y2="75.8" stroke="#8fcb92" stroke-width="1.5"/>
<line x1="455" y1="121.5" x2="1116" y2="121.5" stroke="#b9b9b9" stroke-width="1"/>
<line x1="455" y1="219.8" x2="1116" y2="219.8" stroke="#d2823c" stroke-width="1.3"/>
<line x1="455" y1="184" x2="1116" y2="184" stroke="#b4b4b4" stroke-width="1"/>
<line x1="1003.5" y1="37" x2="1003.5" y2="643" stroke="#b4b4b4" stroke-width="1"/>
<g clip-path="url(#cm)">
<rect x="459.5" y="226.3" width="1" height="27.7" fill="#ef5350"/>
<rect x="457" y="229.0" width="6" height="15.0" fill="#ef5350"/>
<rect x="466.5" y="237.7" width="1" height="29.3" fill="#ef5350"/>
<rect x="464" y="244.0" width="6" height="23.0" fill="#ef5350"/>
<rect x="473.5" y="268.6" width="1" height="14.0" fill="#ef5350"/>
<rect x="471" y="270.6" width="6" height="10.4" fill="#ef5350"/>
<rect x="481.5" y="273.0" width="1" height="40.3" fill="#ef5350"/>
<rect x="479" y="279.0" width="6" height="25.4" fill="#ef5350"/>
<rect x="488.5" y="237.9" width="1" height="84.4" fill="#26a69a"/>
<rect x="486" y="240.3" width="6" height="61.5" fill="#26a69a"/>
<rect x="496.5" y="223.8" width="1" height="37.0" fill="#ef5350"/>
<rect x="503.5" y="224.0" width="1" height="107.2" fill="#ef5350"/>
<rect x="501" y="237.8" width="6" height="73.0" fill="#ef5350"/>
<rect x="511.5" y="252.5" width="1" height="81.7" fill="#26a69a"/>
<rect x="509" y="267.4" width="6" height="37.0" fill="#26a69a"/>
<rect x="518.5" y="261.2" width="1" height="61.1" fill="#ef5350"/>
<rect x="516" y="267.4" width="6" height="43.4" fill="#ef5350"/>
<rect x="526.5" y="299.4" width="1" height="43.2" fill="#26a69a"/>
<rect x="524" y="308.4" width="6" height="2.4" fill="#26a69a"/>
<rect x="533.5" y="305.4" width="1" height="25.8" fill="#ef5350"/>
<rect x="531" y="305.4" width="6" height="5.4" fill="#ef5350"/>
<rect x="540.5" y="299.4" width="1" height="28.5" fill="#26a69a"/>
<rect x="538" y="299.4" width="6" height="8.4" fill="#26a69a"/>
<rect x="548.5" y="244.3" width="1" height="60.1" fill="#26a69a"/>
<rect x="546" y="249.8" width="6" height="52.0" fill="#26a69a"/>
<rect x="555.5" y="247.0" width="1" height="22.6" fill="#ef5350"/>
<rect x="553" y="249.8" width="6" height="10.9" fill="#ef5350"/>
<rect x="563.5" y="244.2" width="1" height="20.8" fill="#26a69a"/>
<rect x="561" y="249.8" width="6" height="14.4" fill="#26a69a"/>
<rect x="570.5" y="232.3" width="1" height="28.1" fill="#ef5350"/>
<rect x="568" y="249.8" width="6" height="5.0" fill="#ef5350"/>
<rect x="578.5" y="240.7" width="1" height="78.1" fill="#ef5350"/>
<rect x="576" y="258.0" width="6" height="43.4" fill="#ef5350"/>
<rect x="585.5" y="290.8" width="1" height="19.2" fill="#26a69a"/>
<rect x="583" y="290.8" width="6" height="16.8" fill="#26a69a"/>
<rect x="593.5" y="150.0" width="1" height="140.3" fill="#26a69a"/>
<rect x="591" y="206.0" width="6" height="81.3" fill="#26a69a"/>
<rect x="600.5" y="177.0" width="1" height="46.3" fill="#ef5350"/>
<rect x="598" y="202.7" width="6" height="2.5" fill="#ef5350"/>
<rect x="607.5" y="182.4" width="1" height="22.3" fill="#26a69a"/>
<rect x="605" y="185.4" width="6" height="16.8" fill="#26a69a"/>
<rect x="615.5" y="177.0" width="1" height="54.5" fill="#ef5350"/>
<rect x="613" y="185.4" width="6" height="46.1" fill="#ef5350"/>
<rect x="622.5" y="232.0" width="1" height="130.9" fill="#ef5350"/>
<rect x="620" y="232.0" width="6" height="110.3" fill="#ef5350"/>
<rect x="630.5" y="235.0" width="1" height="119.7" fill="#26a69a"/>
<rect x="628" y="261.2" width="6" height="78.6" fill="#26a69a"/>
<rect x="637.5" y="255.5" width="1" height="69.5" fill="#ef5350"/>
<rect x="635" y="255.5" width="6" height="55.3" fill="#ef5350"/>
<rect x="645.5" y="288.5" width="1" height="36.5" fill="#26a69a"/>
<rect x="643" y="296.5" width="6" height="16.8" fill="#26a69a"/>
<rect x="652.5" y="253.0" width="1" height="54.6" fill="#26a69a"/>
<rect x="650" y="272.9" width="6" height="19.8" fill="#26a69a"/>
<rect x="660.5" y="243.9" width="1" height="66.1" fill="#ef5350"/>
<rect x="658" y="276.1" width="6" height="2.5" fill="#ef5350"/>
<rect x="667.5" y="232.0" width="1" height="78.0" fill="#ef5350"/>
<rect x="665" y="278.4" width="6" height="25.5" fill="#ef5350"/>
<rect x="674.5" y="144.3" width="1" height="179.4" fill="#26a69a"/>
<rect x="672" y="153.8" width="6" height="147.6" fill="#26a69a"/>
<rect x="682.5" y="133.0" width="1" height="43.8" fill="#ef5350"/>
<rect x="689.5" y="147.2" width="1" height="17.5" fill="#ef5350"/>
<rect x="687" y="154.1" width="6" height="7.8" fill="#ef5350"/>
<rect x="697.5" y="150.1" width="1" height="11.8" fill="#26a69a"/>
<rect x="695" y="150.1" width="6" height="11.8" fill="#26a69a"/>
<rect x="704.5" y="150.1" width="1" height="5.9" fill="#ef5350"/>
<rect x="712.5" y="150.1" width="1" height="19.9" fill="#26a69a"/>
<rect x="710" y="154.1" width="6" height="15.9" fill="#26a69a"/>
<rect x="719.5" y="144.3" width="1" height="17.3" fill="#ef5350"/>
<rect x="717" y="154.1" width="6" height="4.7" fill="#ef5350"/>
<rect x="727.5" y="156.9" width="1" height="10.8" fill="#26a69a"/>
<rect x="725" y="159.7" width="6" height="1.9" fill="#26a69a"/>
<rect x="734.5" y="153.8" width="1" height="8.1" fill="#26a69a"/>
<rect x="732" y="156.9" width="6" height="2.1" fill="#26a69a"/>
<rect x="741.5" y="136.0" width="1" height="20.0" fill="#26a69a"/>
<rect x="739" y="139.1" width="6" height="16.9" fill="#26a69a"/>
<rect x="749.5" y="139.1" width="1" height="5.2" fill="#ef5350"/>
<rect x="756.5" y="133.3" width="1" height="8.4" fill="#26a69a"/>
<rect x="754" y="136.5" width="6" height="2.1" fill="#26a69a"/>
<rect x="764.5" y="118.2" width="1" height="20.4" fill="#26a69a"/>
<rect x="762" y="122.0" width="6" height="16.2" fill="#26a69a"/>
<rect x="771.5" y="98.2" width="1" height="25.5" fill="#26a69a"/>
<rect x="769" y="113.0" width="6" height="8.0" fill="#26a69a"/>
<rect x="779.5" y="103.7" width="1" height="11.5" fill="#26a69a"/>
<rect x="777" y="106.1" width="6" height="6.4" fill="#26a69a"/>
<rect x="786.5" y="83.0" width="1" height="29.5" fill="#26a69a"/>
<rect x="784" y="89.4" width="6" height="16.3" fill="#26a69a"/>
<rect x="794.5" y="87.0" width="1" height="8.0" fill="#ef5350"/>
<rect x="801.5" y="77.1" width="1" height="14.7" fill="#ef5350"/>
<rect x="799" y="83.0" width="6" height="3.8" fill="#ef5350"/>
<rect x="808.5" y="80.1" width="1" height="6.7" fill="#26a69a"/>
<rect x="806" y="80.1" width="6" height="6.7" fill="#26a69a"/>
<rect x="816.5" y="74.7" width="1" height="17.1" fill="#ef5350"/>
<rect x="814" y="80.1" width="6" height="6.7" fill="#ef5350"/>
<rect x="823.5" y="74.7" width="1" height="19.9" fill="#26a69a"/>
<rect x="821" y="74.7" width="6" height="14.5" fill="#26a69a"/>
<rect x="831.5" y="74.7" width="1" height="17.1" fill="#ef5350"/>
<rect x="829" y="77.5" width="6" height="11.7" fill="#ef5350"/>
<rect x="838.5" y="92.2" width="1" height="20.3" fill="#ef5350"/>
<rect x="836" y="92.2" width="6" height="20.3" fill="#ef5350"/>
<rect x="846.5" y="101.0" width="1" height="8.7" fill="#26a69a"/>
<rect x="844" y="103.7" width="6" height="6.0" fill="#26a69a"/>
<rect x="853.5" y="92.2" width="1" height="10.7" fill="#26a69a"/>
<rect x="851" y="97.8" width="6" height="5.1" fill="#26a69a"/>
<rect x="861.5" y="87.0" width="1" height="7.6" fill="#26a69a"/>
<rect x="859" y="89.8" width="6" height="2.0" fill="#26a69a"/>
<rect x="868.5" y="77.5" width="1" height="11.5" fill="#26a69a"/>
<rect x="866" y="83.0" width="6" height="6.0" fill="#26a69a"/>
<rect x="875.5" y="87.0" width="1" height="13.3" fill="#ef5350"/>
<rect x="873" y="87.0" width="6" height="13.3" fill="#ef5350"/>
<rect x="883.5" y="103.5" width="1" height="2.2" fill="#ef5350"/>
<rect x="881" y="103.5" width="6" height="2.2" fill="#ef5350"/>
<rect x="890.5" y="87.0" width="1" height="15.9" fill="#26a69a"/>
<rect x="888" y="92.2" width="6" height="10.7" fill="#26a69a"/>
<rect x="898.5" y="89.4" width="1" height="5.2" fill="#ef5350"/>
<rect x="896" y="92.2" width="6" height="2.4" fill="#ef5350"/>
<rect x="905.5" y="93.0" width="1" height="9.9" fill="#ef5350"/>
<rect x="903" y="95.2" width="6" height="2.6" fill="#ef5350"/>
<rect x="913.5" y="95.2" width="1" height="7.7" fill="#26a69a"/>
<rect x="911" y="95.2" width="6" height="2.6" fill="#26a69a"/>
<rect x="920.5" y="87.0" width="1" height="7.6" fill="#26a69a"/>
<rect x="918" y="92.4" width="6" height="2.2" fill="#26a69a"/>
<rect x="928.5" y="87.0" width="1" height="10.8" fill="#ef5350"/>
<rect x="926" y="92.4" width="6" height="2.4" fill="#ef5350"/>
<rect x="935.5" y="89.4" width="1" height="10.9" fill="#ef5350"/>
<rect x="942.5" y="80.3" width="1" height="14.3" fill="#26a69a"/>
<rect x="940" y="83.0" width="6" height="11.6" fill="#26a69a"/>
<rect x="950.5" y="83.0" width="1" height="8.8" fill="#ef5350"/>
<rect x="948" y="83.0" width="6" height="6.0" fill="#ef5350"/>
<rect x="957.5" y="77.5" width="1" height="17.1" fill="#ef5350"/>
<rect x="965.5" y="83.0" width="1" height="11.6" fill="#ef5350"/>
<rect x="963" y="89.8" width="6" height="4.8" fill="#ef5350"/>
<rect x="972.5" y="89.4" width="1" height="8.4" fill="#26a69a"/>
<rect x="970" y="92.2" width="6" height="5.6" fill="#26a69a"/>
<rect x="980.5" y="89.4" width="1" height="16.3" fill="#ef5350"/>
<rect x="978" y="92.2" width="6" height="10.7" fill="#ef5350"/>
<rect x="987.5" y="103.3" width="1" height="20.1" fill="#ef5350"/>
<rect x="985" y="103.3" width="6" height="12.2" fill="#ef5350"/>
<rect x="995.5" y="115.5" width="1" height="19.9" fill="#ef5350"/>
<rect x="993" y="115.5" width="6" height="17.4" fill="#ef5350"/>
<rect x="1002.5" y="126.7" width="1" height="26.9" fill="#ef5350"/>
<rect x="1000" y="133.3" width="6" height="20.3" fill="#ef5350"/>
<rect x="1010.5" y="147.2" width="1" height="23.5" fill="#ef5350"/>
<rect x="1008" y="150.3" width="6" height="14.2" fill="#ef5350"/>
<rect x="1017.5" y="150.3" width="1" height="17.3" fill="#26a69a"/>
<rect x="1015" y="154.0" width="6" height="10.5" fill="#26a69a"/>
<rect x="1024.5" y="150.3" width="1" height="14.2" fill="#ef5350"/>
<rect x="1022" y="150.3" width="6" height="8.7" fill="#ef5350"/>
<rect x="1032.5" y="153.6" width="1" height="16.4" fill="#ef5350"/>
<rect x="1030" y="159.8" width="6" height="1.6" fill="#ef5350"/>
<rect x="1039.5" y="136.0" width="1" height="25.8" fill="#26a69a"/>
<rect x="1037" y="142.0" width="6" height="19.8" fill="#26a69a"/>
<rect x="1047.5" y="142.0" width="1" height="14.5" fill="#ef5350"/>
<rect x="1045" y="144.4" width="6" height="9.2" fill="#ef5350"/>
<rect x="1054.5" y="149.0" width="1" height="30.4" fill="#ef5350"/>
<rect x="1052" y="154.0" width="6" height="16.5" fill="#ef5350"/>
<rect x="1062.5" y="165.2" width="1" height="25.4" fill="#ef5350"/>
<rect x="1060" y="173.2" width="6" height="9.3" fill="#ef5350"/>
<rect x="1069.5" y="150.3" width="1" height="34.7" fill="#26a69a"/>
<rect x="1067" y="159.3" width="6" height="20.1" fill="#26a69a"/>
<rect x="1077.5" y="156.5" width="1" height="26.0" fill="#ef5350"/>
<rect x="1075" y="159.3" width="6" height="17.4" fill="#ef5350"/>
<rect x="1084.5" y="168.0" width="1" height="22.6" fill="#ef5350"/>
<rect x="1082" y="177.0" width="6" height="8.6" fill="#ef5350"/>
<rect x="1091.5" y="170.7" width="1" height="22.4" fill="#26a69a"/>
<rect x="1089" y="170.7" width="6" height="14.7" fill="#26a69a"/>
<rect x="1099.5" y="165.2" width="1" height="17.3" fill="#26a69a"/>
<rect x="1097" y="165.2" width="6" height="5.3" fill="#26a69a"/>
<rect x="1106.5" y="150.3" width="1" height="17.3" fill="#26a69a"/>
<rect x="1104" y="150.3" width="6" height="14.2" fill="#26a69a"/>
<rect x="1114.5" y="144.7" width="1" height="14.3" fill="#ef5350"/>
</g>
<circle cx="916.7" cy="75.8" r="6.3" fill="#fff" stroke="#3aa043" stroke-width="2"/><circle cx="916.7" cy="75.8" r="2" fill="#3aa043"/>
<circle cx="916.7" cy="219.8" r="6.3" fill="#fff" stroke="#e07a30" stroke-width="2"/><circle cx="916.7" cy="219.8" r="2" fill="#e07a30"/>
<g clip-path="url(#cd)">
<rect x="457.8" y="545.2" width="1.4" height="10.8" fill="#bb4a7c"/>
<rect x="465.1" y="545.9" width="1.4" height="10.1" fill="#bb4a7c"/>
<rect x="472.4" y="550.7" width="1.4" height="5.3" fill="#bb4a7c"/>
<rect x="480.0" y="556.0" width="1.4" height="3.8" fill="#bb4a7c"/>
<rect x="487.4" y="551.4" width="1.4" height="4.6" fill="#bb4a7c"/>
<rect x="494.9" y="545.2" width="1.4" height="10.8" fill="#bb4a7c"/>
<rect x="509.9" y="554.9" width="1.4" height="1.1" fill="#bb4a7c"/>
<rect x="517.3" y="556.0" width="1.4" height="8.6" fill="#bb4a7c"/>
<rect x="524.8" y="556.0" width="1.4" height="14.9" fill="#bb4a7c"/>
<rect x="532.1" y="556.0" width="1.4" height="20.2" fill="#bb4a7c"/>
<rect x="539.5" y="556.0" width="1.4" height="22.5" fill="#bb4a7c"/>
<rect x="546.7" y="556.0" width="1.4" height="11.4" fill="#bb4a7c"/>
<rect x="554.4" y="556.0" width="1.4" height="5.4" fill="#bb4a7c"/>
<rect x="561.7" y="554.2" width="1.4" height="1.8" fill="#bb4a7c"/>
<rect x="569.4" y="550.7" width="1.4" height="5.3" fill="#bb4a7c"/>
<rect x="576.6" y="556.0" width="1.4" height="1.7" fill="#bb4a7c"/>
<rect x="584.3" y="556.0" width="1.4" height="5.2" fill="#bb4a7c"/>
<rect x="591.6" y="544.2" width="1.4" height="11.8" fill="#bb4a7c"/>
<rect x="599.3" y="529.9" width="1.4" height="26.1" fill="#bb4a7c"/>
<rect x="606.8" y="515.0" width="1.4" height="41.0" fill="#bb4a7c"/>
<rect x="614.1" y="515.0" width="1.4" height="41.0" fill="#bb4a7c"/>
<rect x="621.5" y="541.4" width="1.4" height="14.6" fill="#bb4a7c"/>
<rect x="629.0" y="542.0" width="1.4" height="14.0" fill="#bb4a7c"/>
<rect x="643.6" y="556.0" width="1.4" height="5.8" fill="#bb4a7c"/>
<rect x="651.3" y="556.0" width="1.4" height="5.8" fill="#bb4a7c"/>
<rect x="658.9" y="556.0" width="1.4" height="6.5" fill="#bb4a7c"/>
<rect x="666.0" y="556.0" width="1.4" height="7.5" fill="#bb4a7c"/>
<rect x="673.6" y="539.6" width="1.4" height="16.4" fill="#bb4a7c"/>
<rect x="680.9" y="516.0" width="1.4" height="40.0" fill="#bb4a7c"/>
<rect x="688.6" y="500.0" width="1.4" height="56.0" fill="#bb4a7c"/>
<rect x="695.7" y="485.3" width="1.4" height="70.7" fill="#bb4a7c"/>
<rect x="703.5" y="475.9" width="1.4" height="80.1" fill="#bb4a7c"/>
<rect x="710.9" y="469.6" width="1.4" height="86.4" fill="#bb4a7c"/>
<rect x="718.3" y="465.8" width="1.4" height="90.2" fill="#bb4a7c"/>
<rect x="725.9" y="465.1" width="1.4" height="90.9" fill="#bb4a7c"/>
<rect x="733.2" y="464.1" width="1.4" height="91.9" fill="#bb4a7c"/>
<rect x="740.8" y="460.4" width="1.4" height="95.6" fill="#bb4a7c"/>
<rect x="748.2" y="459.5" width="1.4" height="96.5" fill="#bb4a7c"/>
<rect x="755.4" y="458.3" width="1.4" height="97.7" fill="#bb4a7c"/>
<rect x="763.0" y="455.0" width="1.4" height="101.0" fill="#bb4a7c"/>
<rect x="770.6" y="451.9" width="1.4" height="104.1" fill="#bb4a7c"/>
<rect x="777.9" y="449.1" width="1.4" height="106.9" fill="#bb4a7c"/>
<rect x="785.3" y="444.3" width="1.4" height="111.7" fill="#bb4a7c"/>
<rect x="792.9" y="441.8" width="1.4" height="114.2" fill="#bb4a7c"/>
<rect x="800.1" y="439.8" width="1.4" height="116.2" fill="#bb4a7c"/>
<rect x="807.7" y="439.3" width="1.4" height="116.7" fill="#bb4a7c"/>
<rect x="815.3" y="441.0" width="1.4" height="115.0" fill="#bb4a7c"/>
<rect x="822.6" y="441.0" width="1.4" height="115.0" fill="#bb4a7c"/>
<rect x="830.0" y="445.5" width="1.4" height="110.5" fill="#bb4a7c"/>
<rect x="837.6" y="455.6" width="1.4" height="100.4" fill="#bb4a7c"/>
<rect x="844.8" y="462.9" width="1.4" height="93.1" fill="#bb4a7c"/>
<rect x="852.4" y="468.8" width="1.4" height="87.2" fill="#bb4a7c"/>
<rect x="860.0" y="471.3" width="1.4" height="84.7" fill="#bb4a7c"/>
<rect x="867.1" y="473.2" width="1.4" height="82.8" fill="#bb4a7c"/>
<rect x="874.6" y="479.7" width="1.4" height="76.3" fill="#bb4a7c"/>
<rect x="882.2" y="486.9" width="1.4" height="69.1" fill="#bb4a7c"/>
<rect x="889.6" y="490.9" width="1.4" height="65.1" fill="#bb4a7c"/>
<rect x="897.1" y="494.6" width="1.4" height="61.4" fill="#bb4a7c"/>
<rect x="904.5" y="499.4" width="1.4" height="56.6" fill="#bb4a7c"/>
<rect x="911.9" y="502.2" width="1.4" height="53.8" fill="#bb4a7c"/>
<rect x="919.3" y="504.8" width="1.4" height="51.2" fill="#bb4a7c"/>
<rect x="926.7" y="508.8" width="1.4" height="47.2" fill="#bb4a7c"/>
<rect x="934.2" y="511.0" width="1.4" height="45.0" fill="#bb4a7c"/>
<rect x="941.6" y="511.0" width="1.4" height="45.0" fill="#bb4a7c"/>
<rect x="949.0" y="514.2" width="1.4" height="41.8" fill="#bb4a7c"/>
<rect x="956.7" y="516.0" width="1.4" height="40.0" fill="#bb4a7c"/>
<rect x="964.1" y="519.7" width="1.4" height="36.3" fill="#bb4a7c"/>
<rect x="971.5" y="521.9" width="1.4" height="34.1" fill="#bb4a7c"/>
<rect x="978.9" y="527.3" width="1.4" height="28.7" fill="#bb4a7c"/>
<rect x="986.3" y="533.9" width="1.4" height="22.1" fill="#bb4a7c"/>
<rect x="993.8" y="543.7" width="1.4" height="12.3" fill="#bb4a7c"/>
<rect x="1008.6" y="556.0" width="1.4" height="12.8" fill="#bb4a7c"/>
<rect x="1016.3" y="556.0" width="1.4" height="19.4" fill="#bb4a7c"/>
<rect x="1023.7" y="556.0" width="1.4" height="25.9" fill="#bb4a7c"/>
<rect x="1031.1" y="556.0" width="1.4" height="31.4" fill="#bb4a7c"/>
<rect x="1038.5" y="556.0" width="1.4" height="30.3" fill="#bb4a7c"/>
<rect x="1046.0" y="556.0" width="1.4" height="32.5" fill="#bb4a7c"/>
<rect x="1053.4" y="556.0" width="1.4" height="36.8" fill="#bb4a7c"/>
<rect x="1060.8" y="556.0" width="1.4" height="43.4" fill="#bb4a7c"/>
<rect x="1068.2" y="556.0" width="1.4" height="42.3" fill="#bb4a7c"/>
<rect x="1075.7" y="556.0" width="1.4" height="45.6" fill="#bb4a7c"/>
<rect x="1083.1" y="556.0" width="1.4" height="48.8" fill="#bb4a7c"/>
<rect x="1090.7" y="556.0" width="1.4" height="47.8" fill="#bb4a7c"/>
<rect x="1098.1" y="556.0" width="1.4" height="45.1" fill="#bb4a7c"/>
<rect x="1105.8" y="556.0" width="1.4" height="37.9" fill="#bb4a7c"/>
<rect x="1113.2" y="556.0" width="1.4" height="34.7" fill="#bb4a7c"/>
<path d="M455.0,568.1 C457.3,567.3 464.3,564.7 468.9,563.2 C473.5,561.7 478.4,560.7 482.8,559.1 C487.2,557.5 491.7,554.8 495.3,553.5 C498.9,552.2 500.6,551.3 504.3,551.1 C508.0,550.9 513.4,551.5 517.5,552.5 C521.6,553.5 525.0,555.5 528.7,557.0 C532.4,558.5 535.9,560.2 539.8,561.2 C543.7,562.2 548.4,562.6 552.3,563.2 C556.2,563.8 557.8,564.8 563.4,565.0 C569.0,565.2 579.4,565.8 585.6,564.2 C591.9,562.6 596.0,559.2 600.9,555.6 C605.8,552.0 609.9,545.6 614.8,542.8 C619.7,540.0 624.1,539.3 630.1,538.9 C636.1,538.5 646.0,539.7 651.0,540.3 C656.0,540.9 656.1,541.3 660.0,542.7 C663.9,544.1 670.6,547.7 674.3,548.9 C677.9,550.1 679.2,550.4 681.9,549.7 C684.6,549.0 686.7,547.8 690.4,544.7 C694.1,541.6 699.1,536.8 703.9,531.2 C708.7,525.6 714.0,518.3 719.0,511.0 C724.0,503.7 729.4,494.1 734.2,487.3 C739.0,480.6 742.6,474.6 747.7,470.5 C752.8,466.4 758.4,465.3 764.6,462.9 C770.8,460.5 777.5,458.6 784.8,456.1 C792.1,453.6 800.0,449.9 808.4,447.7 C816.8,445.5 829.2,443.6 835.4,443.2 C841.6,442.8 839.7,443.0 845.5,445.2 C851.3,447.4 863.1,452.2 870.0,456.1 C876.9,460.0 879.6,463.5 886.8,468.4 C894.0,473.3 903.9,479.9 913.0,485.4 C922.1,490.8 932.3,496.8 941.4,501.1 C950.5,505.4 958.9,507.7 967.6,511.0 C976.3,514.3 987.6,517.9 993.8,520.8 C1000.0,523.7 998.2,522.6 1004.7,528.4 C1011.2,534.2 1023.6,546.9 1033.1,555.7 C1042.6,564.6 1053.1,575.1 1061.5,581.5 C1069.9,587.9 1077.1,591.3 1083.3,594.0 C1089.5,596.7 1093.1,596.8 1098.6,597.6 C1104.0,598.4 1113.1,598.8 1116.0,599.0" fill="none" stroke="#4aa6e0" stroke-width="1.3"/>
</g>
<line x1="455" y1="401.5" x2="1116" y2="401.5" stroke="#c8c8c8" stroke-width="1.5"/>
<line x1="455" y1="643" x2="1117" y2="643" stroke="#c8c8c8" stroke-width="1.5"/>
<line x1="1116.5" y1="37" x2="1116.5" y2="665" stroke="#c8c8c8" stroke-width="1.2"/>
<line x1="454.5" y1="37" x2="454.5" y2="665" stroke="#e3e3e3" stroke-width="1"/>
<line x1="1116" y1="43.2" x2="1120" y2="43.2" stroke="#bbb"/>
<line x1="1116" y1="101.4" x2="1120" y2="101.4" stroke="#bbb"/>
<line x1="1116" y1="160" x2="1120" y2="160" stroke="#bbb"/>
<line x1="1116" y1="277.3" x2="1120" y2="277.3" stroke="#bbb"/>
<line x1="1116" y1="335.4" x2="1120" y2="335.4" stroke="#bbb"/>
<line x1="1116" y1="419.5" x2="1120" y2="419.5" stroke="#bbb"/>
<line x1="1116" y1="487.5" x2="1120" y2="487.5" stroke="#bbb"/>
<line x1="1116" y1="556.5" x2="1120" y2="556.5" stroke="#bbb"/>
<line x1="1116" y1="624.5" x2="1120" y2="624.5" stroke="#bbb"/>
<line x1="519.5" y1="643" x2="519.5" y2="647" stroke="#bbb"/>
<line x1="601.5" y1="643" x2="601.5" y2="647" stroke="#bbb"/>
<line x1="683" y1="643" x2="683" y2="647" stroke="#bbb"/>
<line x1="794.5" y1="643" x2="794.5" y2="647" stroke="#bbb"/>
<line x1="876.5" y1="643" x2="876.5" y2="647" stroke="#bbb"/>
<line x1="958.5" y1="643" x2="958.5" y2="647" stroke="#bbb"/>
<line x1="1040.5" y1="643" x2="1040.5" y2="647" stroke="#bbb"/>
</svg>
<div class="t" style="left:462.6px;top:42.5px;font-size:12px;color:#2a2a2a;font-weight:normal;transform:scaleX(1.008);transform-origin:left center;">#US500, M15: Spot US 500</div>
<div class="t" style="left:459.6px;top:58.0px;font-size:10.5px;color:#7cc47f;font-weight:normal;">TP at 4792.24, diff at 4792.24, 47998 points</div>
<div class="t" style="left:462.7px;top:93.5px;font-size:13px;color:#9a9a9a;font-weight:normal;transform:scaleX(0.996);transform-origin:left center;">Ichimoku Kinko Hyo (9, 26, 52)</div>
<div class="t" style="left:459.5px;top:104.8px;font-size:10px;color:#8a8a8a;font-weight:normal;">BUY 9 at 4 788.32</div>
<div class="t" style="left:459.6px;top:203.5px;font-size:10.5px;color:#efa06a;font-weight:normal;transform:scaleX(0.999);transform-origin:left center;">SL at 4779.87, diff at 4779.87, 477987 points</div>
<div style="position:absolute;left:463px;top:67px;width:58px;height:22px;background:#ef4a4f;border-radius:3px 0 0 3px"></div>
<div style="position:absolute;left:521px;top:67px;width:42px;height:22px;background:#d93a3e"></div>
<div style="position:absolute;left:563px;top:67px;width:98px;height:22px;background:#fff;box-shadow:0 0 0 1px #eee"></div>
<div style="position:absolute;left:661px;top:67px;width:37px;height:22px;background:#d63a3e;border-radius:3px 0 0 3px"></div>
<div style="position:absolute;left:698px;top:67px;width:59px;height:22px;background:#ea4a4e;border-radius:0 3px 3px 0"></div>
<div class="t" style="left:291.7px;width:400px;text-align:center;top:68.6px;font-size:12.5px;color:#fff;font-weight:normal;transform:scaleX(0.947);transform-origin:center center;">4787.42</div>
<div class="t" style="left:341.4px;width:400px;text-align:center;top:68.6px;font-size:12.5px;color:#fff;font-weight:normal;transform:scaleX(0.860);transform-origin:center center;">SELL</div>
<div class="t" style="left:479.5px;width:400px;text-align:center;top:68.6px;font-size:12.5px;color:#fff;font-weight:normal;transform:scaleX(0.867);transform-origin:center center;">BUY</div>
<div class="t" style="left:527.2px;width:400px;text-align:center;top:68.6px;font-size:12.5px;color:#fff;font-weight:normal;transform:scaleX(0.956);transform-origin:center center;">4788.32</div>
<div class="t" style="left:412.5px;width:400px;text-align:center;top:68.6px;font-size:13px;color:#2a2a2a;font-weight:normal;transform:scaleX(0.928);transform-origin:center center;">1.00</div>
<svg style="left:571px;top:75px" width="10" height="6" fill="none" stroke="#444" stroke-width="1.6"><path d="M1 1L5 5L9 1"/></svg>
<svg style="left:644px;top:75px" width="10" height="6" fill="none" stroke="#444" stroke-width="1.6"><path d="M1 5L5 1L9 5"/></svg>
<svg style="left:649px;top:97.0px" width="17" height="13" fill="none" stroke="#555" stroke-width="1.4"><path d="M1 6.8C4 1.8 12 1.8 15.5 6.8C12 11.8 4 11.8 1 6.8Z"/><circle cx="8.3" cy="6.9" r="2.4" fill="#555" stroke="none"/><path d="M2.6 0.6L14.6 12" stroke="#fff" stroke-width="3"/><path d="M2.6 0.6L14.6 12"/></svg>
<svg style="left:672.5px;top:96.5px" width="14" height="14" fill="none" stroke="#555" stroke-width="1.4"><circle cx="7" cy="7" r="2"/><path d="M7 1L8.5 2.5L10.8 2.2L11.3 4.4L13 6L11.8 8L12.2 10.2L10 10.8L8.7 12.8L7 11.6L5 12.8L3.8 10.8L1.8 10.2L2.2 8L1 6L2.7 4.4L3.2 2.2L5.5 2.5Z"/></svg>
<svg style="left:696px;top:97.5px" width="12" height="12" fill="none" stroke="#555" stroke-width="1.5"><path d="M1 1L11 11M11 1L1 11"/></svg>
<div class="t" style="left:462px;top:409.0px;font-size:12.5px;color:#9a9a9a;font-weight:normal;">MACD (12, 26, 9, Close)</div>
<svg style="left:607px;top:412.5px" width="17" height="13" fill="none" stroke="#555" stroke-width="1.4"><path d="M1 6.8C4 1.8 12 1.8 15.5 6.8C12 11.8 4 11.8 1 6.8Z"/><circle cx="8.3" cy="6.9" r="2.4" fill="#555" stroke="none"/><path d="M2.6 0.6L14.6 12" stroke="#fff" stroke-width="3"/><path d="M2.6 0.6L14.6 12"/></svg>
<svg style="left:630.5px;top:412px" width="14" height="14" fill="none" stroke="#555" stroke-width="1.4"><circle cx="7" cy="7" r="2"/><path d="M7 1L8.5 2.5L10.8 2.2L11.3 4.4L13 6L11.8 8L12.2 10.2L10 10.8L8.7 12.8L7 11.6L5 12.8L3.8 10.8L1.8 10.2L2.2 8L1 6L2.7 4.4L3.2 2.2L5.5 2.5Z"/></svg>
<svg style="left:653.5px;top:413px" width="12" height="12" fill="none" stroke="#555" stroke-width="1.5"><path d="M1 1L11 11M11 1L1 11"/></svg>
<div class="t" style="left:1122.5px;top:33.2px;font-size:10.5px;color:#222;font-weight:normal;">4795.00</div>
<div class="t" style="left:1122.5px;top:91.7px;font-size:10.5px;color:#222;font-weight:normal;">4790.00</div>
<div class="t" style="left:1122.5px;top:150.0px;font-size:10.5px;color:#222;font-weight:normal;">4785.00</div>
<div class="t" style="left:1122.5px;top:267.3px;font-size:10.5px;color:#222;font-weight:normal;">4775.00</div>
<div class="t" style="left:1122.5px;top:325.4px;font-size:10.5px;color:#222;font-weight:normal;">4770.00</div>
<div class="t" style="left:1122.5px;top:408.8px;font-size:10.5px;color:#222;font-weight:normal;">4.000000</div>
<div class="t" style="left:1122.5px;top:476.8px;font-size:10.5px;color:#222;font-weight:normal;">2.000000</div>
<div class="t" style="left:1122.5px;top:545.6px;font-size:10.5px;color:#222;font-weight:normal;">0.000000</div>
<div class="t" style="left:1122.5px;top:613.6px;font-size:10.5px;color:#222;font-weight:normal;">-2.000000</div>
<div style="position:absolute;left:1116.5px;top:67.5px;width:62px;height:15px;background:#fff;border:1px solid #6dbb70"></div>
<div class="t" style="left:1121px;top:65.5px;font-size:10.5px;color:#7cc47f;font-weight:normal;transform:scaleX(0.974);transform-origin:left center;">4792.24</div>
<div style="position:absolute;left:1116.5px;top:122.3px;width:63.5px;height:16.5px;background:#26a69a"></div>
<div class="t" style="left:1121px;top:120.5px;font-size:10.5px;color:#fff;font-weight:normal;transform:scaleX(0.974);transform-origin:left center;">4787.42</div>
<div style="position:absolute;left:1116.5px;top:174.2px;width:63.5px;height:16.5px;background:#a3a3a3"></div>
<div class="t" style="left:1121px;top:172.5px;font-size:10.5px;color:#fff;font-weight:normal;transform:scaleX(0.974);transform-origin:left center;">4782.98</div>
<div style="position:absolute;left:1116.5px;top:211.5px;width:62px;height:15px;background:#fff;border:1px solid #e08a4a"></div>
<div class="t" style="left:1121px;top:209.5px;font-size:10.5px;color:#e8955a;font-weight:normal;transform:scaleX(0.974);transform-origin:left center;">4779.87</div>
<div class="t" style="left:519px;top:646.0px;font-size:10.5px;color:#222;font-weight:normal;">16:30</div>
<div class="t" style="left:601px;top:646.0px;font-size:10.5px;color:#222;font-weight:normal;">19:15</div>
<div class="t" style="left:683px;top:646.0px;font-size:10.5px;color:#222;font-weight:normal;">22:00</div>
<div class="t" style="left:795px;top:646.0px;font-size:10.5px;color:#222;font-weight:normal;">02:45</div>
<div class="t" style="left:877px;top:646.0px;font-size:10.5px;color:#222;font-weight:normal;">05:30</div>
<div class="t" style="left:1047px;top:646.0px;font-size:10.5px;color:#222;font-weight:normal;">1:00</div>
<div style="position:absolute;left:960px;top:648.5px;width:86px;height:14.5px;background:#9b9b9b"></div>
<div class="t" style="left:803px;width:400px;text-align:center;top:645.8px;font-size:10.5px;color:#f4f4f4;font-weight:normal;">2023.12.28 09:45</div>
<div style="position:absolute;left:798.5px;top:595.5px;width:29px;height:29px;border-radius:50%;background:#fff;box-shadow:0 1px 4px rgba(0,0,0,0.13)"></div>
<svg style="left:804px;top:601px" width="18" height="18" viewBox="-9 -9 18 18" fill="none" stroke="#777" stroke-width="1.7"><path d="M-5 0H5"/></svg>
<div style="position:absolute;left:834.2px;top:595.5px;width:29px;height:29px;border-radius:50%;background:#fff;box-shadow:0 1px 4px rgba(0,0,0,0.13)"></div>
<svg style="left:839.7px;top:601px" width="18" height="18" viewBox="-9 -9 18 18" fill="none" stroke="#777" stroke-width="1.7"><path d="M-5 0H5M0 -5V5"/></svg>
<div style="position:absolute;left:883.9px;top:595.5px;width:29px;height:29px;border-radius:50%;background:#fff;box-shadow:0 1px 4px rgba(0,0,0,0.13)"></div>
<svg style="left:889.4px;top:601px" width="18" height="18" viewBox="-9 -9 18 18" fill="none" stroke="#777" stroke-width="1.7"><path d="M2.5 -5L-2.5 0L2.5 5"/></svg>
<div style="position:absolute;left:921.5px;top:595.5px;width:29px;height:29px;border-radius:50%;background:#fff;box-shadow:0 1px 4px rgba(0,0,0,0.13)"></div>
<svg style="left:927px;top:601px" width="18" height="18" viewBox="-9 -9 18 18" fill="none" stroke="#777" stroke-width="1.7"><path d="M-2.5 -5L2.5 0L-2.5 5"/></svg>
<div style="position:absolute;left:969.0px;top:595.5px;width:29px;height:29px;border-radius:50%;background:#fff;box-shadow:0 1px 4px rgba(0,0,0,0.13)"></div>
<svg style="left:974.5px;top:601px" width="18" height="18" viewBox="-9 -9 18 18" fill="none" stroke="#777" stroke-width="1.7"><path d="M-6 -2.6A6.3 6.3 0 1 0 0 -6.3"/><path d="M0.5 -9.3L-3.2 -6.3L0.5 -3.3Z" fill="#777" stroke="none"/></svg>
</body></html>
